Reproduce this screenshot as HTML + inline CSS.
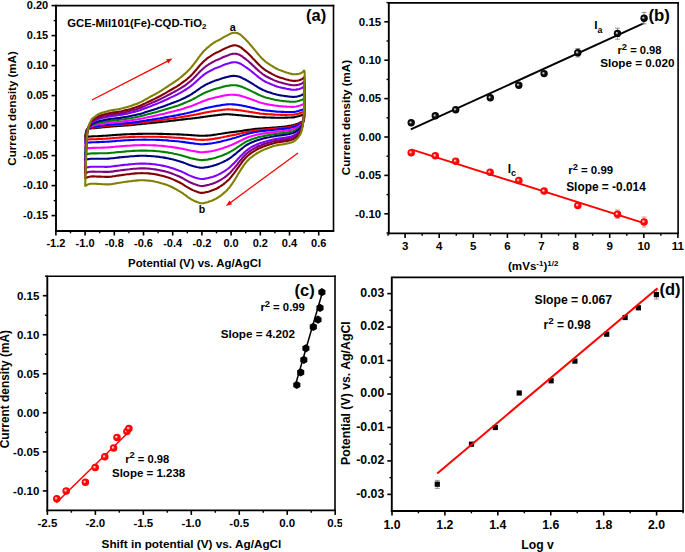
<!DOCTYPE html>
<html><head><meta charset="utf-8"><title>Electrochemistry panels</title>
<style>html,body{margin:0;padding:0;background:#fff;width:685px;height:552px;overflow:hidden}
svg text{font-family:'Liberation Sans',sans-serif;font-weight:bold;fill:#000}</style></head>
<body>
<svg width="685" height="552" viewBox="0 0 685 552" style="display:block;font-family:'Liberation Sans',sans-serif;font-weight:bold"><defs><radialGradient id="gk" cx="0.5" cy="0.5" r="0.5" fx="0.36" fy="0.42">
<stop offset="0" stop-color="#e8e8e8"/><stop offset="0.18" stop-color="#aaa"/><stop offset="0.42" stop-color="#111"/><stop offset="1" stop-color="#000"/></radialGradient><radialGradient id="gr" cx="0.5" cy="0.5" r="0.5" fx="0.36" fy="0.4">
<stop offset="0" stop-color="#fff"/><stop offset="0.18" stop-color="#ffb0b0"/><stop offset="0.45" stop-color="#ff0a0a"/><stop offset="1" stop-color="#f00"/></radialGradient></defs><rect width="685" height="552" fill="#fff"/><line x1="56" y1="5.6" x2="334.3" y2="5.6" stroke="#000" stroke-width="1.6" />
<line x1="333.5" y1="4.8" x2="333.5" y2="231" stroke="#000" stroke-width="1.6" />
<line x1="56" y1="4.8" x2="56" y2="231.95" stroke="#000" stroke-width="1.9" />
<line x1="55.05" y1="231" x2="334.3" y2="231" stroke="#000" stroke-width="1.9" />
<path d="M85.2,136.7 85.3,136.5 85.3,136.1 85.4,135.4 85.5,134.7 85.6,134.0 85.7,133.4 85.8,132.9 85.9,132.4 85.9,132.0 86.0,131.5 86.2,131.1 86.3,130.7 86.4,130.5 86.4,130.2 86.5,130.0 86.6,129.8 86.7,129.7 86.9,129.5 87.0,129.4 87.1,129.3 87.3,129.2 87.4,129.1 87.6,129.0 87.7,128.9 87.9,128.8 88.1,128.8 88.3,128.7 88.5,128.7 88.7,128.6 88.9,128.6 89.1,128.6 89.4,128.5 89.6,128.5 89.9,128.5 90.1,128.5 90.4,128.5 90.6,128.5 90.8,128.4 91.0,128.4 91.3,128.4 91.5,128.4 91.8,128.3 92.3,128.3 92.9,128.3 93.4,128.2 94.1,128.1 94.7,128.1 95.3,128.0 96.0,127.9 96.7,127.9 97.4,127.8 98.1,127.7 98.9,127.7 99.7,127.6 101.2,127.4 102.8,127.3 104.6,127.1 106.4,126.9 108.2,126.7 109.9,126.6 111.3,126.5 112.6,126.4 113.9,126.3 115.2,126.2 116.6,126.1 117.9,126.0 119.7,125.9 121.5,125.8 123.3,125.6 125.2,125.5 127.1,125.4 128.9,125.2 130.8,125.1 132.6,124.9 134.5,124.7 136.3,124.5 138.2,124.3 140.0,124.2 141.7,124.0 143.4,123.8 145.1,123.6 146.7,123.5 148.4,123.3 150.1,123.1 151.7,123.0 153.4,122.8 155.0,122.6 156.7,122.4 158.3,122.3 160.0,122.1 161.7,121.9 163.3,121.7 165.0,121.5 166.6,121.4 168.3,121.2 169.9,121.0 171.6,120.8 173.2,120.6 174.9,120.4 176.5,120.2 178.2,120.0 179.9,119.8 181.5,119.6 183.3,119.4 185.0,119.2 186.7,119.0 188.3,118.8 189.8,118.7 190.8,118.6 191.7,118.5 192.6,118.4 193.4,118.3 194.2,118.2 195.0,118.1 195.7,118.0 196.4,117.9 197.1,117.8 197.8,117.8 198.5,117.7 199.1,117.6 199.8,117.5 200.4,117.4 201.1,117.3 201.8,117.2 202.4,117.1 203.1,117.0 203.7,116.9 204.4,116.8 205.1,116.7 205.8,116.6 206.5,116.5 207.2,116.4 207.8,116.3 208.5,116.2 209.2,116.1 209.9,116.0 210.6,115.9 211.2,115.9 211.9,115.8 212.6,115.7 213.3,115.6 214.0,115.5 214.6,115.4 215.3,115.4 216.0,115.3 216.7,115.2 217.5,115.1 218.2,115.0 218.9,114.9 219.6,114.9 220.2,114.8 220.9,114.7 221.5,114.6 222.2,114.5 222.8,114.5 223.5,114.4 224.2,114.4 224.9,114.3 225.5,114.3 226.2,114.3 226.9,114.3 227.6,114.3 228.3,114.3 229.0,114.3 229.6,114.4 230.3,114.4 231.0,114.5 231.7,114.5 232.4,114.6 233.0,114.6 233.7,114.7 234.4,114.8 235.1,114.8 235.8,114.9 236.5,115.0 237.2,115.0 237.9,115.1 238.6,115.1 239.3,115.2 240.0,115.3 240.6,115.3 241.2,115.4 241.8,115.5 242.3,115.5 242.9,115.6 243.5,115.6 244.1,115.7 244.8,115.8 245.4,115.8 246.1,115.9 246.7,116.0 247.5,116.0 248.4,116.1 249.3,116.2 250.4,116.3 251.4,116.4 252.4,116.5 253.4,116.6 254.4,116.7 255.3,116.8 256.3,116.9 257.3,117.0 258.2,117.1 259.2,117.2 260.2,117.3 261.1,117.3 262.1,117.3 263.0,117.4 264.0,117.4 265.0,117.4 266.0,117.5 266.9,117.5 267.9,117.5 268.9,117.5 269.9,117.5 270.9,117.6 271.9,117.6 272.8,117.6 273.8,117.6 274.8,117.7 275.7,117.7 276.7,117.7 277.7,117.7 278.7,117.7 279.6,117.7 280.6,117.7 281.6,117.7 282.6,117.7 283.6,117.7 284.5,117.7 285.5,117.6 286.5,117.6 287.4,117.6 288.4,117.5 289.4,117.5 290.3,117.5 291.3,117.5 292.3,117.4 293.2,117.4 294.2,117.2 295.2,117.0 296.2,116.8 297.2,116.5 298.2,116.2 299.1,116.0 300.0,115.7 300.6,115.5 301.1,115.4 301.7,115.2 302.1,115.1 302.6,114.9 303.0,114.8 303.3,114.7 303.5,114.5 303.7,114.4 303.9,114.2 304.1,114.2 304.2,114.2 304.3,114.4 304.3,114.7 304.3,115.2 304.3,115.7 304.2,116.2 304.2,116.6 304.2,117.0 304.2,117.4 304.2,117.8 304.2,118.2 304.1,118.6 304.1,119.0 304.0,119.3 304.0,119.7 303.9,120.0 303.8,120.3 303.7,120.6 303.6,120.8 303.4,121.0 303.2,121.2 303.0,121.3 302.8,121.4 302.5,121.6 302.3,121.7 302.0,121.8 301.7,121.9 301.4,122.1 301.1,122.2 300.7,122.3 300.4,122.4 299.9,122.6 299.4,122.9 298.9,123.2 298.3,123.4 297.7,123.7 297.2,123.9 296.6,124.1 296.0,124.3 295.4,124.5 294.7,124.7 294.1,124.8 293.4,125.0 292.4,125.2 291.4,125.5 290.3,125.7 289.2,125.9 288.1,126.1 287.0,126.3 285.9,126.5 284.8,126.6 283.8,126.7 282.7,126.8 281.7,126.9 280.7,127.0 279.9,127.1 279.1,127.1 278.4,127.2 277.7,127.3 276.9,127.3 276.1,127.4 274.6,127.5 273.0,127.6 271.2,127.7 269.4,127.9 267.6,128.0 265.8,128.1 264.2,128.2 262.5,128.4 260.8,128.5 259.1,128.6 257.4,128.7 255.8,128.9 254.2,129.1 252.7,129.3 251.1,129.5 249.6,129.7 248.1,129.9 246.7,130.1 245.6,130.3 244.5,130.4 243.5,130.6 242.5,130.8 241.5,131.0 240.4,131.1 239.4,131.3 238.4,131.4 237.3,131.5 236.3,131.6 235.2,131.8 234.2,131.9 233.1,132.0 232.1,132.1 231.0,132.3 230.0,132.4 228.9,132.5 227.7,132.7 226.2,132.9 224.5,133.2 222.8,133.5 221.0,133.8 219.3,134.0 217.7,134.3 216.3,134.5 215.0,134.7 213.6,134.9 212.3,135.1 211.1,135.2 209.9,135.4 209.0,135.5 208.2,135.5 207.3,135.6 206.5,135.6 205.7,135.6 205.0,135.7 204.3,135.7 203.8,135.7 203.2,135.8 202.6,135.8 202.0,135.8 201.3,135.8 199.9,135.7 198.3,135.6 196.5,135.5 194.7,135.4 192.9,135.2 191.1,135.1 189.4,135.0 187.7,134.9 186.0,134.8 184.3,134.7 182.6,134.6 180.9,134.5 179.2,134.4 177.5,134.4 175.8,134.3 174.1,134.3 172.4,134.2 170.7,134.2 169.0,134.1 167.2,134.1 165.5,134.0 163.8,134.0 162.1,133.9 160.4,133.9 158.7,133.9 157.0,133.8 155.3,133.8 153.6,133.8 151.9,133.8 150.2,133.8 148.5,133.8 146.8,133.8 145.2,133.8 143.5,133.8 141.8,133.9 140.0,133.9 138.0,133.9 135.8,134.0 133.7,134.1 131.5,134.1 129.4,134.2 127.4,134.3 125.8,134.4 124.2,134.4 122.6,134.5 121.1,134.6 119.5,134.7 117.9,134.8 116.4,134.9 114.8,135.0 113.2,135.1 111.6,135.3 110.0,135.4 108.5,135.5 106.9,135.6 105.3,135.7 103.7,135.8 102.1,135.9 100.6,136.0 99.0,136.1 97.3,136.2 95.7,136.3 94.0,136.3 92.4,136.4 90.8,136.5 89.5,136.5 88.6,136.6 87.6,136.6 86.7,136.6 85.9,136.7 85.4,136.7 85.2,136.7 85.2,136.7 85.2,136.7 85.2,136.7 85.2,136.7 85.2,136.7 85.2,136.7Z" fill="none" stroke="#000000" stroke-width="2.1" stroke-linejoin="round"/>
<path d="M85.2,139.7 85.3,139.5 85.3,138.9 85.4,138.2 85.5,137.3 85.6,136.4 85.7,135.7 85.8,135.0 85.9,134.4 86.0,133.8 86.1,133.2 86.2,132.6 86.3,132.0 86.4,131.7 86.4,131.3 86.5,131.0 86.6,130.6 86.7,130.3 86.9,130.1 87.0,129.9 87.1,129.7 87.2,129.5 87.4,129.3 87.6,129.1 87.7,129.0 87.9,128.9 88.1,128.8 88.3,128.7 88.5,128.6 88.7,128.5 88.9,128.4 89.1,128.3 89.4,128.3 89.6,128.2 89.9,128.2 90.1,128.1 90.4,128.1 90.6,128.0 90.8,128.0 91.0,127.9 91.3,127.9 91.5,127.8 91.8,127.8 92.3,127.7 92.9,127.6 93.4,127.6 94.1,127.5 94.7,127.4 95.3,127.3 96.0,127.2 96.7,127.1 97.4,127.0 98.1,126.9 98.9,126.8 99.7,126.7 101.2,126.6 102.8,126.4 104.6,126.2 106.4,126.0 108.2,125.8 109.9,125.6 111.3,125.5 112.6,125.4 113.9,125.3 115.2,125.2 116.6,125.1 117.9,125.0 119.7,124.8 121.5,124.7 123.3,124.6 125.2,124.4 127.1,124.2 128.9,124.1 130.8,123.9 132.6,123.7 134.5,123.5 136.3,123.3 138.2,123.0 140.0,122.8 141.7,122.6 143.4,122.4 145.1,122.2 146.7,122.0 148.4,121.7 150.1,121.5 151.7,121.3 153.4,121.1 155.0,120.9 156.7,120.7 158.3,120.4 160.0,120.2 161.7,120.0 163.3,119.8 165.0,119.5 166.6,119.3 168.3,119.0 169.9,118.8 171.6,118.5 173.2,118.3 174.9,118.0 176.5,117.8 178.2,117.5 179.9,117.3 181.5,117.0 183.3,116.7 185.0,116.4 186.7,116.2 188.3,115.9 189.8,115.6 190.8,115.5 191.7,115.3 192.6,115.2 193.4,115.0 194.2,114.8 195.0,114.7 195.8,114.6 196.4,114.4 197.1,114.3 197.8,114.2 198.5,114.0 199.1,113.9 199.8,113.8 200.4,113.6 201.1,113.5 201.8,113.3 202.4,113.2 203.1,113.0 203.7,112.9 204.4,112.8 205.1,112.6 205.8,112.5 206.5,112.3 207.2,112.2 207.8,112.1 208.5,112.0 209.2,111.8 209.9,111.7 210.6,111.6 211.2,111.5 211.9,111.4 212.6,111.3 213.3,111.2 214.0,111.1 214.6,111.0 215.3,110.9 216.0,110.8 216.7,110.7 217.5,110.6 218.2,110.5 218.9,110.4 219.6,110.3 220.2,110.2 220.9,110.1 221.5,110.0 222.2,109.9 222.8,109.8 223.5,109.7 224.2,109.6 224.9,109.6 225.5,109.5 226.2,109.5 226.9,109.5 227.6,109.4 228.3,109.4 229.0,109.4 229.6,109.5 230.3,109.5 231.0,109.5 231.7,109.5 232.4,109.6 233.0,109.6 233.7,109.7 234.4,109.7 235.1,109.8 235.8,109.9 236.5,109.9 237.2,110.0 237.9,110.1 238.6,110.2 239.3,110.3 240.0,110.3 240.6,110.4 241.2,110.5 241.8,110.6 242.3,110.7 242.9,110.8 243.5,110.9 244.1,111.0 244.8,111.1 245.4,111.2 246.1,111.3 246.7,111.4 247.5,111.5 248.4,111.6 249.3,111.8 250.4,112.0 251.4,112.1 252.4,112.3 253.4,112.5 254.4,112.6 255.3,112.8 256.3,113.0 257.3,113.1 258.2,113.3 259.2,113.4 260.2,113.6 261.1,113.7 262.1,113.8 263.0,113.8 264.0,113.9 265.0,114.0 266.0,114.1 266.9,114.1 267.9,114.2 268.9,114.3 269.9,114.3 270.9,114.4 271.9,114.4 272.8,114.5 273.8,114.6 274.8,114.6 275.7,114.7 276.7,114.7 277.7,114.8 278.7,114.8 279.6,114.8 280.6,114.9 281.6,114.9 282.6,114.9 283.6,114.9 284.5,114.9 285.5,114.9 286.5,114.9 287.4,114.8 288.4,114.8 289.4,114.8 290.3,114.8 291.3,114.8 292.3,114.8 293.2,114.7 294.2,114.6 295.2,114.4 296.2,114.2 297.2,113.9 298.2,113.7 299.1,113.4 300.0,113.1 300.6,113.0 301.1,112.8 301.7,112.6 302.1,112.5 302.6,112.3 303.0,112.2 303.3,112.0 303.5,111.9 303.7,111.7 303.9,111.6 304.1,111.5 304.2,111.5 304.3,111.8 304.4,112.3 304.4,112.9 304.3,113.6 304.3,114.3 304.2,115.0 304.2,115.5 304.2,116.1 304.2,116.7 304.2,117.2 304.1,117.8 304.1,118.3 304.0,118.7 304.0,119.2 303.9,119.6 303.8,119.9 303.7,120.3 303.6,120.7 303.4,120.9 303.2,121.2 303.0,121.4 302.8,121.7 302.5,121.9 302.3,122.1 302.0,122.3 301.7,122.5 301.4,122.6 301.1,122.8 300.7,123.0 300.4,123.1 299.9,123.4 299.4,123.7 298.9,124.0 298.3,124.3 297.7,124.6 297.2,124.8 296.6,125.0 296.0,125.3 295.4,125.5 294.7,125.6 294.1,125.8 293.4,126.0 292.4,126.3 291.4,126.5 290.3,126.8 289.2,127.0 288.1,127.2 287.0,127.4 285.9,127.5 284.8,127.7 283.8,127.8 282.7,127.9 281.7,128.0 280.7,128.1 279.9,128.1 279.1,128.2 278.4,128.3 277.7,128.3 276.9,128.4 276.1,128.5 274.6,128.6 273.0,128.8 271.2,128.9 269.4,129.1 267.6,129.2 265.8,129.4 264.2,129.5 262.5,129.7 260.8,129.9 259.1,130.0 257.4,130.2 255.8,130.4 254.2,130.7 252.7,130.9 251.1,131.2 249.6,131.5 248.1,131.7 246.7,132.0 245.6,132.3 244.5,132.5 243.5,132.8 242.5,133.0 241.5,133.3 240.4,133.5 239.4,133.8 238.4,134.0 237.3,134.2 236.3,134.4 235.2,134.7 234.2,134.9 233.1,135.1 232.1,135.3 231.0,135.5 230.0,135.7 228.9,135.9 227.7,136.1 226.2,136.5 224.5,136.8 222.8,137.2 221.0,137.5 219.3,137.9 217.7,138.2 216.3,138.4 215.0,138.6 213.6,138.9 212.3,139.1 211.1,139.3 209.9,139.4 209.0,139.5 208.2,139.6 207.3,139.6 206.5,139.7 205.7,139.7 205.0,139.8 204.3,139.8 203.8,139.9 203.2,139.9 202.6,139.9 202.0,139.9 201.3,139.9 199.9,139.8 198.3,139.7 196.5,139.6 194.7,139.4 192.9,139.2 191.1,139.0 189.4,138.8 187.7,138.7 186.0,138.5 184.3,138.3 182.6,138.1 180.9,138.0 179.2,137.9 177.5,137.8 175.8,137.7 174.1,137.6 172.4,137.5 170.7,137.4 169.0,137.3 167.2,137.2 165.5,137.1 163.8,137.0 162.1,136.9 160.4,136.9 158.7,136.8 157.0,136.8 155.3,136.7 153.6,136.7 151.9,136.7 150.2,136.7 148.5,136.7 146.8,136.7 145.2,136.7 143.5,136.7 141.8,136.7 140.0,136.7 138.0,136.8 135.8,136.8 133.7,136.9 131.5,137.0 129.4,137.1 127.4,137.2 125.8,137.3 124.2,137.3 122.6,137.4 121.1,137.5 119.5,137.6 117.9,137.7 116.4,137.8 114.8,138.0 113.2,138.1 111.6,138.2 110.0,138.4 108.5,138.5 106.9,138.6 105.3,138.7 103.7,138.8 102.1,138.9 100.6,138.9 99.0,139.0 97.3,139.1 95.7,139.2 94.0,139.2 92.4,139.3 90.8,139.3 89.5,139.4 88.6,139.5 87.6,139.5 86.7,139.6 85.9,139.6 85.4,139.7 85.2,139.7 85.2,139.7 85.2,139.7 85.2,139.7 85.2,139.7 85.2,139.7 85.2,139.7Z" fill="none" stroke="#ff0000" stroke-width="2.1" stroke-linejoin="round"/>
<path d="M85.2,142.8 85.3,142.6 85.3,142.0 85.4,141.0 85.5,140.0 85.6,139.0 85.7,138.0 85.8,137.3 85.9,136.5 86.0,135.7 86.1,134.9 86.2,134.1 86.3,133.4 86.4,132.9 86.4,132.4 86.5,131.9 86.6,131.5 86.7,131.1 86.9,130.7 87.0,130.4 87.1,130.1 87.2,129.8 87.4,129.5 87.6,129.3 87.7,129.1 87.9,128.9 88.1,128.7 88.3,128.6 88.5,128.5 88.7,128.3 88.9,128.2 89.1,128.1 89.4,128.0 89.6,127.9 89.9,127.8 90.1,127.7 90.4,127.7 90.6,127.6 90.8,127.5 91.0,127.4 91.3,127.4 91.5,127.3 91.8,127.2 92.3,127.1 92.9,127.0 93.4,126.9 94.1,126.8 94.7,126.7 95.3,126.5 96.0,126.4 96.7,126.3 97.4,126.2 98.1,126.1 98.9,126.0 99.7,125.8 101.2,125.6 102.8,125.4 104.6,125.2 106.4,125.0 108.2,124.8 109.9,124.6 111.3,124.4 112.6,124.3 113.9,124.2 115.2,124.1 116.6,124.0 117.9,123.9 119.7,123.8 121.5,123.6 123.3,123.4 125.2,123.3 127.1,123.1 128.9,122.9 130.8,122.7 132.6,122.4 134.5,122.2 136.3,121.9 138.2,121.7 140.0,121.4 141.7,121.2 143.4,120.9 145.1,120.7 146.7,120.4 148.4,120.1 150.1,119.8 151.7,119.6 153.4,119.3 155.0,119.1 156.7,118.8 158.3,118.5 160.0,118.3 161.7,118.0 163.3,117.7 165.0,117.4 166.6,117.1 168.3,116.8 169.9,116.5 171.6,116.2 173.2,115.9 174.9,115.6 176.5,115.3 178.2,114.9 179.9,114.6 181.5,114.3 183.3,113.9 185.0,113.5 186.7,113.2 188.3,112.8 189.8,112.5 190.8,112.2 191.7,112.0 192.6,111.8 193.4,111.6 194.2,111.4 195.0,111.1 195.8,110.9 196.4,110.8 197.1,110.6 197.8,110.4 198.5,110.2 199.1,110.0 199.8,109.8 200.4,109.6 201.1,109.4 201.8,109.3 202.4,109.1 203.1,108.9 203.7,108.7 204.4,108.5 205.1,108.3 205.8,108.1 206.5,108.0 207.2,107.8 207.8,107.7 208.5,107.5 209.2,107.4 209.9,107.2 210.6,107.1 211.2,107.0 211.9,106.8 212.6,106.7 213.3,106.6 214.0,106.4 214.6,106.3 215.3,106.2 216.0,106.0 216.7,105.9 217.5,105.8 218.2,105.7 218.9,105.6 219.6,105.5 220.2,105.4 220.9,105.2 221.5,105.1 222.2,105.0 222.8,104.9 223.5,104.8 224.2,104.7 224.9,104.6 225.5,104.5 226.2,104.5 226.9,104.4 227.6,104.4 228.3,104.3 229.0,104.3 229.6,104.3 230.3,104.3 231.0,104.3 231.7,104.3 232.4,104.4 233.0,104.4 233.7,104.4 234.4,104.5 235.1,104.6 235.8,104.6 236.5,104.7 237.2,104.8 237.9,104.9 238.6,105.0 239.3,105.1 240.0,105.2 240.6,105.3 241.2,105.4 241.8,105.5 242.3,105.6 242.9,105.7 243.5,105.9 244.1,106.0 244.8,106.1 245.4,106.3 246.1,106.4 246.7,106.5 247.5,106.7 248.4,106.9 249.3,107.1 250.4,107.4 251.4,107.6 252.4,107.9 253.4,108.1 254.4,108.3 255.3,108.6 256.3,108.8 257.3,109.1 258.2,109.3 259.2,109.5 260.2,109.7 261.1,109.8 262.1,110.0 263.0,110.1 264.0,110.3 265.0,110.4 266.0,110.5 266.9,110.6 267.9,110.7 268.9,110.8 269.9,110.9 270.9,111.0 271.9,111.1 272.8,111.2 273.8,111.3 274.8,111.4 275.7,111.5 276.7,111.6 277.7,111.7 278.7,111.7 279.6,111.8 280.6,111.8 281.6,111.9 282.6,111.9 283.6,111.9 284.5,112.0 285.5,112.0 286.5,112.0 287.4,112.0 288.4,112.0 289.4,112.0 290.3,112.0 291.3,112.0 292.3,112.0 293.2,112.0 294.2,111.9 295.2,111.7 296.2,111.5 297.2,111.2 298.2,111.0 299.1,110.7 300.0,110.4 300.6,110.3 301.1,110.1 301.7,109.9 302.1,109.8 302.6,109.6 303.0,109.4 303.3,109.3 303.5,109.1 303.7,108.9 303.9,108.8 304.1,108.7 304.2,108.7 304.4,109.1 304.4,109.7 304.4,110.5 304.3,111.5 304.3,112.4 304.2,113.2 304.2,114.0 304.2,114.7 304.2,115.5 304.2,116.2 304.1,116.9 304.1,117.6 304.0,118.1 304.0,118.6 303.9,119.1 303.8,119.6 303.7,120.1 303.6,120.5 303.4,120.9 303.2,121.2 303.0,121.6 302.8,121.9 302.5,122.2 302.3,122.5 302.0,122.7 301.7,123.0 301.4,123.2 301.1,123.4 300.7,123.6 300.4,123.9 299.9,124.2 299.4,124.5 298.9,124.8 298.3,125.2 297.7,125.5 297.2,125.7 296.6,126.0 296.0,126.2 295.4,126.5 294.7,126.7 294.1,126.9 293.4,127.1 292.4,127.3 291.4,127.6 290.3,127.8 289.2,128.1 288.1,128.3 287.0,128.5 285.9,128.6 284.8,128.8 283.8,128.9 282.7,129.0 281.7,129.1 280.7,129.2 279.9,129.3 279.1,129.3 278.4,129.4 277.7,129.5 276.9,129.6 276.1,129.7 274.6,129.8 273.0,130.0 271.2,130.1 269.4,130.3 267.6,130.5 265.8,130.7 264.2,130.9 262.5,131.1 260.8,131.3 259.1,131.5 257.4,131.8 255.8,132.0 254.2,132.3 252.7,132.6 251.1,133.0 249.6,133.3 248.1,133.7 246.7,134.0 245.6,134.4 244.5,134.7 243.5,135.0 242.5,135.4 241.5,135.7 240.4,136.0 239.4,136.4 238.4,136.7 237.3,137.0 236.3,137.4 235.2,137.7 234.2,138.0 233.1,138.3 232.1,138.6 231.1,138.9 230.0,139.2 228.9,139.5 227.7,139.8 226.2,140.2 224.5,140.6 222.8,141.0 221.0,141.5 219.3,141.9 217.7,142.2 216.3,142.5 215.0,142.8 213.6,143.0 212.3,143.3 211.1,143.5 209.9,143.6 209.0,143.7 208.2,143.8 207.3,143.9 206.5,144.0 205.7,144.0 205.0,144.1 204.3,144.1 203.8,144.2 203.2,144.2 202.6,144.2 202.0,144.2 201.3,144.2 199.9,144.2 198.3,144.0 196.5,143.8 194.7,143.6 192.9,143.3 191.1,143.1 189.4,142.9 187.7,142.6 186.0,142.4 184.3,142.1 182.6,141.9 180.9,141.7 179.2,141.5 177.5,141.3 175.8,141.2 174.1,141.0 172.4,140.9 170.7,140.7 169.0,140.6 167.3,140.4 165.5,140.3 163.8,140.2 162.1,140.1 160.4,140.0 158.7,139.9 157.0,139.9 155.3,139.8 153.6,139.8 151.9,139.7 150.2,139.7 148.5,139.7 146.8,139.7 145.2,139.6 143.5,139.6 141.8,139.7 140.0,139.7 138.0,139.7 135.8,139.8 133.7,139.9 131.5,140.0 129.4,140.1 127.4,140.2 125.8,140.3 124.2,140.4 122.6,140.5 121.1,140.6 119.5,140.7 117.9,140.8 116.4,140.9 114.8,141.1 113.2,141.2 111.6,141.4 110.0,141.5 108.5,141.6 106.9,141.7 105.3,141.8 103.7,141.9 102.1,141.9 100.6,142.0 99.0,142.1 97.3,142.1 95.7,142.2 94.0,142.3 92.4,142.3 90.8,142.4 89.5,142.5 88.6,142.5 87.6,142.6 86.7,142.7 85.9,142.8 85.4,142.8 85.2,142.8 85.2,142.9 85.2,142.9 85.2,142.9 85.2,142.9 85.2,142.9 85.2,142.8Z" fill="none" stroke="#0000ff" stroke-width="2.1" stroke-linejoin="round"/>
<path d="M85.2,148.7 85.3,148.3 85.3,147.5 85.4,146.3 85.5,145.0 85.6,143.6 85.7,142.4 85.8,141.4 85.9,140.3 86.0,139.2 86.1,138.1 86.2,137.0 86.3,136.0 86.4,135.2 86.4,134.5 86.5,133.8 86.6,133.1 86.7,132.4 86.9,131.8 87.0,131.3 87.1,130.8 87.2,130.4 87.4,130.0 87.5,129.6 87.7,129.3 87.9,129.0 88.1,128.7 88.3,128.5 88.5,128.3 88.7,128.1 88.9,127.9 89.1,127.7 89.4,127.5 89.6,127.3 89.9,127.2 90.1,127.0 90.4,126.9 90.6,126.8 90.8,126.6 91.0,126.5 91.3,126.4 91.5,126.3 91.8,126.2 92.3,126.0 92.9,125.8 93.4,125.6 94.1,125.5 94.7,125.3 95.3,125.2 96.0,125.0 96.7,124.8 97.4,124.7 98.1,124.5 98.9,124.3 99.7,124.2 101.2,123.9 102.8,123.7 104.6,123.4 106.4,123.1 108.2,122.9 109.9,122.7 111.3,122.5 112.6,122.4 113.9,122.3 115.2,122.2 116.6,122.1 117.9,121.9 119.7,121.8 121.5,121.6 123.3,121.4 125.2,121.1 127.1,120.9 128.9,120.7 130.8,120.4 132.6,120.1 134.5,119.8 136.3,119.5 138.2,119.2 140.0,118.9 141.7,118.5 143.4,118.2 145.1,117.8 146.7,117.5 148.4,117.1 150.1,116.8 151.7,116.4 153.4,116.1 155.0,115.7 156.7,115.4 158.3,115.0 160.0,114.6 161.7,114.2 163.3,113.9 165.0,113.5 166.6,113.0 168.3,112.6 169.9,112.2 171.6,111.8 173.2,111.4 174.9,111.0 176.6,110.6 178.2,110.1 179.9,109.7 181.5,109.2 183.3,108.7 185.0,108.1 186.7,107.6 188.3,107.1 189.8,106.6 190.8,106.3 191.7,105.9 192.6,105.6 193.4,105.3 194.2,104.9 195.0,104.6 195.8,104.3 196.4,104.0 197.1,103.7 197.8,103.4 198.5,103.1 199.1,102.9 199.8,102.6 200.4,102.3 201.1,102.0 201.7,101.7 202.4,101.5 203.1,101.2 203.7,101.0 204.4,100.7 205.1,100.4 205.8,100.2 206.5,100.0 207.2,99.7 207.8,99.5 208.5,99.3 209.2,99.1 209.9,98.9 210.6,98.8 211.2,98.6 211.9,98.4 212.6,98.2 213.3,98.0 214.0,97.8 214.6,97.7 215.3,97.5 216.0,97.3 216.7,97.2 217.5,97.0 218.2,96.9 218.9,96.7 219.6,96.6 220.2,96.4 220.9,96.3 221.5,96.1 222.2,96.0 222.8,95.8 223.5,95.7 224.2,95.5 224.9,95.4 225.5,95.3 226.2,95.2 226.9,95.1 227.6,95.0 228.3,95.0 229.0,94.9 229.6,94.8 230.3,94.8 231.0,94.8 231.7,94.8 232.4,94.7 233.0,94.8 233.7,94.8 234.4,94.8 235.1,94.9 235.8,94.9 236.5,95.0 237.2,95.1 237.9,95.2 238.6,95.3 239.3,95.5 240.0,95.6 240.6,95.8 241.2,95.9 241.8,96.1 242.3,96.3 242.9,96.5 243.5,96.7 244.1,96.8 244.8,97.0 245.4,97.2 246.1,97.4 246.7,97.7 247.5,97.9 248.4,98.2 249.3,98.6 250.4,98.9 251.4,99.3 252.4,99.7 253.4,100.0 254.4,100.4 255.3,100.8 256.3,101.1 257.3,101.5 258.2,101.9 259.2,102.2 260.2,102.5 261.1,102.8 262.1,103.0 263.0,103.3 264.0,103.5 265.0,103.8 266.0,104.0 266.9,104.2 267.9,104.4 268.9,104.5 269.9,104.7 270.9,104.9 271.9,105.0 272.8,105.2 273.8,105.4 274.8,105.5 275.7,105.7 276.7,105.8 277.7,105.9 278.7,106.0 279.6,106.2 280.6,106.2 281.6,106.3 282.6,106.4 283.6,106.5 284.5,106.5 285.5,106.6 286.5,106.6 287.4,106.7 288.4,106.7 289.4,106.8 290.3,106.8 291.3,106.9 292.3,106.9 293.2,106.9 294.2,106.8 295.2,106.7 296.2,106.5 297.2,106.2 298.2,106.0 299.1,105.7 300.0,105.5 300.6,105.3 301.1,105.1 301.7,104.9 302.1,104.7 302.6,104.5 303.0,104.3 303.3,104.2 303.5,104.0 303.7,103.8 303.9,103.7 304.1,103.6 304.2,103.6 304.4,104.0 304.5,104.9 304.4,106.1 304.4,107.5 304.3,108.8 304.2,110.0 304.2,111.1 304.2,112.2 304.2,113.2 304.2,114.3 304.1,115.3 304.1,116.2 304.0,117.0 304.0,117.7 303.9,118.3 303.8,119.0 303.7,119.6 303.6,120.2 303.4,120.8 303.2,121.3 303.0,121.8 302.8,122.3 302.5,122.7 302.3,123.2 302.0,123.6 301.7,123.9 301.4,124.3 301.1,124.6 300.7,124.9 300.4,125.3 299.9,125.7 299.4,126.0 298.9,126.4 298.3,126.8 297.8,127.1 297.2,127.5 296.6,127.8 296.0,128.1 295.4,128.3 294.8,128.6 294.1,128.8 293.4,129.1 292.4,129.3 291.4,129.6 290.3,129.9 289.2,130.1 288.1,130.3 287.0,130.5 285.9,130.7 284.8,130.8 283.8,131.0 282.7,131.1 281.7,131.2 280.7,131.3 279.9,131.4 279.1,131.4 278.4,131.5 277.7,131.6 276.9,131.7 276.1,131.8 274.6,132.0 273.0,132.2 271.2,132.4 269.4,132.6 267.6,132.9 265.8,133.2 264.2,133.4 262.5,133.7 260.8,134.0 259.1,134.3 257.4,134.6 255.8,135.0 254.2,135.4 252.6,135.8 251.1,136.3 249.6,136.7 248.1,137.2 246.7,137.8 245.6,138.2 244.5,138.7 243.5,139.2 242.5,139.7 241.5,140.2 240.4,140.7 239.4,141.2 238.4,141.7 237.3,142.2 236.3,142.7 235.2,143.2 234.2,143.7 233.1,144.2 232.1,144.7 231.1,145.1 230.0,145.6 228.9,146.0 227.7,146.5 226.2,147.0 224.5,147.6 222.8,148.2 221.0,148.7 219.3,149.3 217.7,149.7 216.3,150.1 215.0,150.4 213.6,150.7 212.4,151.0 211.1,151.2 209.9,151.4 209.0,151.5 208.2,151.7 207.3,151.8 206.5,151.9 205.7,151.9 205.0,152.0 204.3,152.1 203.8,152.1 203.2,152.2 202.6,152.2 202.0,152.2 201.3,152.2 199.9,152.1 198.3,151.9 196.5,151.6 194.7,151.3 192.9,151.0 191.1,150.7 189.4,150.3 187.7,150.0 186.0,149.6 184.3,149.2 182.6,148.8 180.9,148.5 179.2,148.2 177.5,147.9 175.8,147.6 174.1,147.4 172.4,147.1 170.7,146.9 169.0,146.7 167.3,146.5 165.5,146.3 163.8,146.1 162.1,145.9 160.4,145.8 158.7,145.7 157.0,145.5 155.3,145.4 153.6,145.4 151.9,145.3 150.2,145.2 148.5,145.2 146.8,145.2 145.2,145.1 143.5,145.1 141.8,145.1 140.0,145.2 138.0,145.2 135.8,145.3 133.7,145.4 131.5,145.5 129.4,145.7 127.4,145.8 125.8,145.9 124.2,146.0 122.6,146.1 121.1,146.2 119.5,146.4 117.9,146.5 116.4,146.6 114.8,146.8 113.2,147.0 111.6,147.1 110.0,147.3 108.5,147.4 106.9,147.5 105.3,147.5 103.7,147.6 102.1,147.6 100.6,147.7 99.0,147.7 97.3,147.8 95.7,147.8 94.0,147.9 92.4,147.9 90.8,148.0 89.5,148.1 88.6,148.1 87.6,148.3 86.7,148.4 85.9,148.5 85.4,148.6 85.2,148.7 85.2,148.7 85.2,148.7 85.2,148.7 85.2,148.7 85.2,148.7 85.2,148.7Z" fill="none" stroke="#ff00ff" stroke-width="2.1" stroke-linejoin="round"/>
<path d="M85.2,154.4 85.3,154.0 85.3,153.0 85.4,151.6 85.5,149.9 85.6,148.3 85.7,146.8 85.8,145.4 85.9,144.0 86.0,142.6 86.1,141.2 86.2,139.9 86.3,138.6 86.4,137.6 86.4,136.5 86.5,135.6 86.6,134.6 86.7,133.7 86.9,132.8 87.0,132.2 87.1,131.6 87.2,131.0 87.4,130.5 87.5,129.9 87.7,129.4 87.9,129.1 88.1,128.7 88.3,128.4 88.5,128.1 88.7,127.8 88.9,127.5 89.1,127.3 89.4,127.0 89.6,126.8 89.9,126.6 90.1,126.4 90.4,126.1 90.6,126.0 90.8,125.8 91.0,125.6 91.3,125.4 91.5,125.3 91.8,125.1 92.3,124.9 92.8,124.6 93.4,124.4 94.1,124.2 94.7,124.0 95.3,123.8 96.0,123.6 96.7,123.4 97.4,123.2 98.1,122.9 98.9,122.7 99.7,122.5 101.2,122.2 102.8,121.9 104.6,121.6 106.4,121.3 108.2,121.1 109.9,120.8 111.3,120.7 112.6,120.5 113.9,120.4 115.2,120.3 116.6,120.1 117.9,120.0 119.7,119.8 121.5,119.5 123.3,119.3 125.2,119.0 127.1,118.8 128.9,118.5 130.8,118.2 132.6,117.8 134.5,117.5 136.3,117.1 138.2,116.7 140.0,116.3 141.7,115.9 143.4,115.5 145.1,115.0 146.7,114.6 148.4,114.1 150.1,113.7 151.7,113.3 153.4,112.8 155.0,112.4 156.7,112.0 158.3,111.5 160.0,111.0 161.7,110.6 163.3,110.1 165.0,109.6 166.6,109.0 168.3,108.5 169.9,108.0 171.6,107.5 173.2,107.0 174.9,106.4 176.6,105.9 178.2,105.4 179.9,104.8 181.6,104.2 183.3,103.5 185.0,102.8 186.7,102.1 188.3,101.4 189.8,100.8 190.8,100.3 191.7,99.9 192.6,99.4 193.4,99.0 194.2,98.5 195.0,98.1 195.8,97.7 196.4,97.3 197.1,96.9 197.8,96.5 198.5,96.1 199.1,95.7 199.8,95.4 200.4,95.0 201.1,94.7 201.7,94.3 202.4,94.0 203.1,93.6 203.7,93.3 204.4,93.0 205.1,92.6 205.8,92.3 206.5,92.0 207.2,91.7 207.8,91.5 208.5,91.2 209.2,91.0 209.9,90.7 210.6,90.5 211.2,90.3 211.9,90.0 212.6,89.8 213.3,89.6 214.0,89.3 214.6,89.1 215.3,88.9 216.0,88.7 216.7,88.5 217.5,88.3 218.2,88.2 218.9,88.0 219.6,87.8 220.2,87.6 220.9,87.4 221.5,87.2 222.2,87.0 222.8,86.8 223.5,86.6 224.2,86.5 224.9,86.3 225.5,86.2 226.2,86.0 226.9,85.9 227.6,85.8 228.3,85.7 229.0,85.6 229.6,85.5 230.3,85.4 231.0,85.3 231.7,85.2 232.4,85.2 233.0,85.2 233.7,85.2 234.4,85.2 235.1,85.2 235.8,85.3 236.5,85.4 237.2,85.5 237.9,85.6 238.6,85.8 239.3,86.0 240.0,86.2 240.6,86.4 241.2,86.6 241.8,86.8 242.3,87.0 242.9,87.3 243.5,87.5 244.1,87.8 244.8,88.0 245.4,88.3 246.1,88.6 246.7,88.9 247.5,89.2 248.4,89.6 249.4,90.1 250.4,90.6 251.4,91.1 252.4,91.6 253.4,92.1 254.4,92.5 255.3,93.0 256.3,93.5 257.3,94.0 258.2,94.5 259.2,95.0 260.2,95.4 261.1,95.8 262.1,96.2 263.0,96.5 264.0,96.9 265.0,97.2 265.9,97.5 266.9,97.8 267.9,98.0 268.9,98.3 269.9,98.5 270.9,98.8 271.9,99.0 272.8,99.2 273.8,99.5 274.8,99.7 275.7,99.9 276.7,100.1 277.7,100.3 278.7,100.4 279.6,100.6 280.6,100.7 281.6,100.8 282.6,101.0 283.6,101.1 284.5,101.2 285.5,101.3 286.5,101.4 287.4,101.5 288.4,101.5 289.4,101.6 290.3,101.7 291.3,101.8 292.3,101.8 293.2,101.8 294.2,101.8 295.2,101.7 296.2,101.5 297.2,101.3 298.2,101.0 299.1,100.8 300.0,100.5 300.6,100.3 301.1,100.1 301.7,99.9 302.2,99.7 302.6,99.5 303.0,99.3 303.3,99.1 303.5,98.9 303.7,98.7 303.9,98.6 304.1,98.5 304.2,98.5 304.4,99.0 304.5,100.2 304.5,101.8 304.4,103.6 304.3,105.3 304.2,106.9 304.2,108.2 304.2,109.6 304.2,111.0 304.2,112.4 304.1,113.7 304.1,114.9 304.0,115.8 304.0,116.7 303.9,117.5 303.8,118.4 303.7,119.2 303.6,119.9 303.4,120.6 303.2,121.3 303.0,122.0 302.8,122.7 302.6,123.3 302.3,123.9 302.0,124.4 301.7,124.9 301.4,125.3 301.1,125.8 300.8,126.2 300.4,126.6 299.9,127.1 299.4,127.5 298.9,128.0 298.3,128.4 297.8,128.8 297.2,129.2 296.6,129.5 296.0,129.9 295.4,130.2 294.8,130.5 294.1,130.7 293.4,131.0 292.4,131.3 291.4,131.6 290.3,131.9 289.2,132.1 288.1,132.3 287.0,132.5 285.9,132.7 284.8,132.9 283.8,133.0 282.7,133.1 281.7,133.2 280.7,133.4 279.9,133.4 279.1,133.5 278.4,133.6 277.7,133.7 276.9,133.8 276.1,133.9 274.6,134.1 273.0,134.3 271.2,134.6 269.4,134.9 267.6,135.3 265.8,135.6 264.2,135.9 262.5,136.3 260.8,136.6 259.1,137.0 257.4,137.5 255.8,137.9 254.2,138.4 252.6,139.0 251.1,139.5 249.6,140.2 248.1,140.8 246.7,141.4 245.6,142.0 244.5,142.7 243.5,143.3 242.5,143.9 241.5,144.6 240.4,145.3 239.4,146.0 238.4,146.7 237.3,147.4 236.3,148.1 235.2,148.8 234.2,149.4 233.1,150.1 232.1,150.7 231.1,151.3 230.0,151.9 228.9,152.5 227.7,153.1 226.2,153.8 224.5,154.5 222.8,155.3 221.0,155.9 219.3,156.6 217.7,157.1 216.3,157.6 215.0,157.9 213.6,158.3 212.4,158.6 211.1,158.9 209.9,159.1 209.0,159.3 208.2,159.4 207.3,159.6 206.5,159.7 205.7,159.8 205.0,159.9 204.3,159.9 203.8,160.0 203.2,160.1 202.6,160.1 202.0,160.1 201.3,160.1 199.9,160.0 198.3,159.7 196.5,159.4 194.7,159.0 192.9,158.6 191.1,158.2 189.4,157.7 187.7,157.2 186.0,156.7 184.3,156.2 182.6,155.7 180.9,155.2 179.2,154.8 177.5,154.4 175.8,154.0 174.1,153.7 172.4,153.3 170.7,153.0 169.0,152.7 167.3,152.4 165.6,152.2 163.8,151.9 162.1,151.7 160.4,151.5 158.7,151.3 157.0,151.2 155.3,151.0 153.6,150.9 151.9,150.8 150.2,150.7 148.5,150.7 146.8,150.6 145.2,150.6 143.5,150.6 141.8,150.6 140.0,150.6 138.0,150.7 135.8,150.8 133.7,150.9 131.5,151.0 129.4,151.2 127.4,151.3 125.8,151.4 124.2,151.6 122.6,151.7 121.1,151.9 119.5,152.0 117.9,152.1 116.4,152.3 114.8,152.5 113.2,152.7 111.6,152.8 110.0,153.0 108.5,153.1 106.9,153.2 105.3,153.2 103.7,153.3 102.1,153.3 100.6,153.3 99.0,153.3 97.3,153.4 95.7,153.4 94.0,153.4 92.4,153.4 90.8,153.5 89.5,153.6 88.6,153.7 87.6,153.9 86.7,154.1 85.9,154.2 85.4,154.4 85.2,154.4 85.2,154.4 85.2,154.4 85.2,154.4 85.2,154.4 85.2,154.4 85.2,154.4Z" fill="none" stroke="#008000" stroke-width="2.1" stroke-linejoin="round"/>
<path d="M85.2,160.0 85.3,159.5 85.3,158.3 85.4,156.6 85.5,154.7 85.6,152.7 85.7,151.0 85.8,149.3 85.9,147.7 86.0,146.0 86.1,144.3 86.2,142.6 86.3,141.1 86.4,139.8 86.4,138.5 86.5,137.3 86.6,136.1 86.7,135.0 86.9,133.9 87.0,133.1 87.1,132.3 87.2,131.6 87.4,130.9 87.5,130.2 87.7,129.6 87.9,129.2 88.1,128.7 88.3,128.3 88.5,127.9 88.7,127.5 88.9,127.2 89.1,126.9 89.4,126.5 89.6,126.2 89.8,126.0 90.1,125.7 90.4,125.4 90.6,125.2 90.8,124.9 91.0,124.7 91.3,124.5 91.5,124.3 91.8,124.1 92.3,123.8 92.8,123.5 93.4,123.2 94.1,123.0 94.7,122.7 95.3,122.5 96.0,122.2 96.7,121.9 97.4,121.7 98.1,121.4 98.9,121.2 99.7,121.0 101.2,120.6 102.8,120.3 104.6,119.9 106.4,119.6 108.2,119.3 109.9,119.0 111.3,118.8 112.6,118.7 113.9,118.5 115.2,118.4 116.6,118.3 117.9,118.1 119.7,117.9 121.5,117.6 123.3,117.3 125.2,117.0 127.1,116.7 128.9,116.4 130.8,116.0 132.6,115.6 134.5,115.2 136.3,114.8 138.2,114.3 140.0,113.9 141.7,113.4 143.4,112.9 145.1,112.3 146.7,111.8 148.4,111.3 150.1,110.7 151.7,110.2 153.4,109.7 155.0,109.2 156.7,108.7 158.3,108.1 160.0,107.6 161.7,107.0 163.3,106.4 165.0,105.8 166.6,105.2 168.3,104.6 169.9,103.9 171.6,103.3 173.2,102.7 174.9,102.1 176.6,101.4 178.2,100.8 179.9,100.1 181.6,99.3 183.3,98.5 185.0,97.7 186.7,96.8 188.3,96.0 189.8,95.2 190.8,94.6 191.7,94.0 192.6,93.5 193.4,92.9 194.2,92.4 195.0,91.8 195.8,91.3 196.4,90.8 197.1,90.3 197.8,89.8 198.5,89.4 199.1,88.9 199.8,88.4 200.4,88.0 201.1,87.5 201.7,87.1 202.4,86.7 203.1,86.3 203.7,85.9 204.4,85.5 205.1,85.1 205.8,84.7 206.5,84.3 207.2,84.0 207.8,83.7 208.5,83.4 209.2,83.1 209.9,82.8 210.6,82.5 211.2,82.2 211.9,81.9 212.6,81.6 213.3,81.4 214.0,81.1 214.6,80.8 215.3,80.6 216.0,80.4 216.7,80.1 217.5,79.9 218.2,79.7 218.9,79.5 219.6,79.3 220.2,79.1 220.9,78.8 221.5,78.6 222.2,78.4 222.8,78.1 223.5,77.9 224.2,77.7 224.9,77.5 225.5,77.4 226.2,77.2 226.9,77.0 227.6,76.9 228.3,76.7 229.0,76.5 229.6,76.4 230.3,76.3 231.0,76.1 231.7,76.0 232.4,76.0 233.0,75.9 233.7,75.9 234.4,75.9 235.1,76.0 235.8,76.0 236.5,76.1 237.2,76.2 237.9,76.4 238.6,76.6 239.3,76.8 240.0,77.0 240.6,77.3 241.2,77.5 241.8,77.8 242.3,78.1 242.9,78.4 243.5,78.7 244.1,79.0 244.8,79.3 245.4,79.6 246.1,80.0 246.8,80.4 247.5,80.7 248.4,81.3 249.4,81.9 250.4,82.5 251.4,83.1 252.4,83.7 253.4,84.3 254.4,85.0 255.3,85.6 256.3,86.2 257.3,86.8 258.2,87.4 259.2,88.0 260.2,88.5 261.1,89.0 262.1,89.5 263.0,90.0 264.0,90.4 265.0,90.8 265.9,91.2 266.9,91.6 267.9,91.9 268.9,92.2 269.9,92.5 270.9,92.8 271.9,93.2 272.8,93.5 273.8,93.8 274.8,94.0 275.7,94.3 276.7,94.6 277.7,94.8 278.7,95.0 279.6,95.2 280.6,95.4 281.6,95.5 282.6,95.7 283.6,95.8 284.5,96.0 285.5,96.1 286.5,96.3 287.4,96.4 288.4,96.5 289.4,96.6 290.3,96.7 291.3,96.8 292.3,96.9 293.2,97.0 294.2,96.9 295.2,96.8 296.2,96.7 297.2,96.5 298.2,96.3 299.1,96.0 300.0,95.7 300.6,95.5 301.1,95.3 301.7,95.1 302.2,94.9 302.6,94.6 303.0,94.4 303.3,94.2 303.5,94.0 303.7,93.8 303.9,93.6 304.0,93.5 304.2,93.5 304.5,94.2 304.5,95.6 304.5,97.6 304.4,99.7 304.3,101.9 304.2,103.8 304.2,105.5 304.2,107.2 304.2,108.9 304.2,110.5 304.1,112.1 304.1,113.6 304.0,114.7 304.0,115.8 303.9,116.8 303.8,117.8 303.7,118.7 303.6,119.7 303.4,120.5 303.2,121.4 303.0,122.2 302.8,123.1 302.6,123.8 302.3,124.6 302.0,125.2 301.7,125.8 301.4,126.4 301.1,126.9 300.8,127.4 300.4,128.0 299.9,128.5 299.4,129.0 298.9,129.5 298.3,129.9 297.8,130.4 297.2,130.8 296.6,131.2 296.0,131.6 295.4,131.9 294.8,132.3 294.1,132.6 293.4,132.9 292.4,133.2 291.4,133.5 290.3,133.8 289.2,134.1 288.1,134.3 287.0,134.5 285.9,134.7 284.8,134.8 283.8,135.0 282.7,135.1 281.7,135.2 280.7,135.4 279.9,135.4 279.1,135.5 278.4,135.6 277.7,135.7 276.9,135.8 276.1,135.9 274.6,136.2 273.0,136.5 271.2,136.8 269.4,137.2 267.6,137.5 265.8,137.9 264.1,138.3 262.4,138.8 260.7,139.2 259.1,139.7 257.4,140.2 255.8,140.8 254.2,141.4 252.6,142.0 251.1,142.7 249.6,143.4 248.1,144.2 246.7,145.0 245.6,145.7 244.5,146.5 243.5,147.3 242.5,148.1 241.5,148.9 240.4,149.7 239.4,150.6 238.4,151.4 237.3,152.3 236.3,153.2 235.2,154.1 234.2,154.9 233.1,155.7 232.1,156.5 231.1,157.3 230.0,158.0 228.9,158.8 227.7,159.5 226.2,160.4 224.5,161.2 222.8,162.1 221.0,162.9 219.3,163.6 217.7,164.3 216.3,164.8 215.0,165.2 213.6,165.6 212.4,166.0 211.1,166.3 209.9,166.6 209.0,166.8 208.2,166.9 207.3,167.1 206.5,167.2 205.7,167.3 205.0,167.4 204.3,167.5 203.8,167.6 203.2,167.7 202.6,167.7 202.0,167.8 201.3,167.7 199.9,167.6 198.3,167.3 196.5,166.9 194.7,166.4 192.8,165.9 191.1,165.4 189.4,164.9 187.7,164.3 186.0,163.6 184.3,162.9 182.6,162.3 180.9,161.7 179.2,161.2 177.5,160.7 175.8,160.2 174.1,159.8 172.4,159.3 170.7,158.9 169.0,158.6 167.3,158.2 165.6,157.9 163.9,157.6 162.1,157.3 160.4,157.1 158.7,156.8 157.0,156.6 155.3,156.5 153.6,156.3 151.9,156.2 150.2,156.0 148.5,156.0 146.8,155.9 145.2,155.8 143.5,155.8 141.8,155.8 140.0,155.8 138.0,155.9 135.8,156.0 133.7,156.2 131.5,156.3 129.4,156.5 127.4,156.7 125.8,156.8 124.2,157.0 122.6,157.1 121.1,157.3 119.5,157.4 117.9,157.6 116.4,157.8 114.8,158.0 113.2,158.2 111.6,158.3 110.0,158.5 108.5,158.6 106.9,158.7 105.3,158.7 103.7,158.7 102.1,158.7 100.6,158.7 99.0,158.7 97.3,158.8 95.7,158.8 94.0,158.8 92.4,158.8 90.8,158.8 89.5,159.0 88.6,159.1 87.6,159.3 86.7,159.5 85.9,159.7 85.4,159.9 85.2,160.0 85.2,160.0 85.2,160.0 85.2,160.0 85.2,160.0 85.2,160.0 85.2,160.0Z" fill="none" stroke="#000080" stroke-width="2.1" stroke-linejoin="round"/>
<path d="M85.2,168.2 85.3,167.6 85.3,166.2 85.4,164.1 85.5,161.7 85.6,159.3 85.7,157.2 85.8,155.2 85.9,153.0 86.0,150.9 86.1,148.8 86.2,146.7 86.3,144.7 86.4,143.1 86.4,141.4 86.5,139.8 86.6,138.3 86.7,136.8 86.9,135.5 87.0,134.4 87.1,133.4 87.2,132.5 87.4,131.5 87.5,130.7 87.7,129.9 87.9,129.3 88.1,128.7 88.3,128.2 88.5,127.7 88.7,127.2 88.9,126.7 89.1,126.3 89.3,125.8 89.6,125.4 89.8,125.1 90.1,124.7 90.4,124.3 90.6,124.0 90.8,123.7 91.0,123.4 91.2,123.1 91.5,122.8 91.8,122.6 92.3,122.2 92.8,121.8 93.4,121.5 94.0,121.2 94.7,120.8 95.3,120.5 96.0,120.2 96.7,119.9 97.3,119.5 98.1,119.2 98.8,118.9 99.7,118.6 101.2,118.2 102.8,117.8 104.6,117.4 106.4,117.0 108.2,116.7 109.9,116.4 111.3,116.1 112.6,116.0 113.9,115.8 115.2,115.7 116.6,115.5 117.9,115.3 119.7,115.0 121.5,114.7 123.3,114.4 125.2,114.0 127.1,113.7 128.9,113.2 130.8,112.8 132.6,112.3 134.5,111.9 136.4,111.3 138.2,110.8 140.0,110.2 141.7,109.6 143.4,109.0 145.1,108.3 146.7,107.7 148.4,107.0 150.1,106.4 151.7,105.7 153.4,105.1 155.0,104.4 156.7,103.8 158.4,103.1 160.0,102.4 161.7,101.7 163.3,101.0 165.0,100.2 166.6,99.5 168.3,98.7 169.9,97.9 171.6,97.1 173.2,96.4 174.9,95.6 176.6,94.8 178.2,93.9 179.9,93.1 181.6,92.1 183.3,91.1 185.1,90.0 186.7,89.0 188.3,87.9 189.8,86.9 190.8,86.2 191.7,85.4 192.6,84.7 193.4,84.0 194.2,83.3 195.0,82.6 195.8,81.9 196.4,81.3 197.1,80.6 197.8,80.0 198.5,79.4 199.1,78.8 199.8,78.2 200.4,77.6 201.1,77.0 201.7,76.5 202.4,76.0 203.1,75.4 203.7,74.9 204.4,74.4 205.1,73.9 205.8,73.4 206.5,73.0 207.2,72.5 207.8,72.1 208.5,71.8 209.2,71.4 209.9,71.0 210.6,70.7 211.2,70.3 211.9,70.0 212.6,69.6 213.3,69.3 214.0,68.9 214.6,68.6 215.3,68.3 216.0,68.0 216.7,67.8 217.5,67.5 218.2,67.3 218.9,67.0 219.6,66.7 220.2,66.5 220.9,66.2 221.5,65.9 222.2,65.6 222.8,65.3 223.5,65.0 224.2,64.8 224.9,64.6 225.5,64.3 226.2,64.1 226.9,63.9 227.6,63.6 228.3,63.4 229.0,63.2 229.6,63.0 230.3,62.8 231.0,62.6 231.7,62.5 232.4,62.4 233.0,62.3 233.7,62.2 234.4,62.2 235.1,62.2 235.8,62.3 236.5,62.4 237.2,62.6 237.9,62.8 238.6,63.0 239.3,63.2 240.0,63.5 240.6,63.8 241.2,64.1 241.8,64.5 242.4,64.9 242.9,65.3 243.5,65.6 244.1,66.0 244.8,66.5 245.4,66.9 246.1,67.3 246.8,67.8 247.5,68.3 248.4,69.0 249.4,69.7 250.4,70.5 251.4,71.3 252.4,72.1 253.4,72.9 254.4,73.7 255.3,74.5 256.3,75.3 257.3,76.1 258.2,76.9 259.2,77.7 260.2,78.3 261.1,79.0 262.1,79.7 263.0,80.3 264.0,80.9 265.0,81.5 265.9,82.0 266.9,82.4 267.9,82.9 268.9,83.3 269.9,83.7 270.9,84.1 271.9,84.5 272.8,84.9 273.8,85.3 274.8,85.7 275.7,86.1 276.7,86.4 277.7,86.7 278.7,87.0 279.6,87.2 280.6,87.4 281.6,87.7 282.6,87.9 283.6,88.1 284.5,88.3 285.5,88.5 286.5,88.7 287.4,88.9 288.4,89.1 289.4,89.3 290.3,89.4 291.3,89.6 292.3,89.7 293.2,89.8 294.2,89.8 295.2,89.7 296.2,89.6 297.2,89.4 298.2,89.2 299.2,89.0 300.0,88.7 300.6,88.5 301.1,88.3 301.7,88.0 302.2,87.7 302.6,87.5 303.0,87.2 303.3,87.0 303.5,86.8 303.7,86.6 303.9,86.4 304.0,86.2 304.2,86.2 304.5,87.1 304.6,88.9 304.5,91.3 304.4,94.1 304.3,96.9 304.2,99.3 304.2,101.4 304.2,103.6 304.2,105.7 304.2,107.8 304.1,109.8 304.1,111.7 304.0,113.1 304.0,114.4 303.9,115.6 303.8,116.9 303.7,118.1 303.6,119.3 303.4,120.4 303.2,121.5 303.0,122.6 302.8,123.6 302.6,124.6 302.3,125.6 302.0,126.4 301.7,127.2 301.5,127.9 301.1,128.6 300.8,129.3 300.4,129.9 299.9,130.5 299.4,131.1 298.9,131.7 298.3,132.2 297.8,132.8 297.2,133.3 296.6,133.7 296.0,134.2 295.4,134.6 294.8,135.0 294.1,135.3 293.4,135.7 292.4,136.0 291.4,136.4 290.3,136.7 289.2,136.9 288.1,137.2 287.0,137.4 285.9,137.6 284.8,137.8 283.8,137.9 282.7,138.0 281.7,138.2 280.7,138.3 279.9,138.4 279.1,138.5 278.4,138.6 277.7,138.7 276.9,138.8 276.1,138.9 274.6,139.2 272.9,139.6 271.2,140.0 269.4,140.4 267.6,140.9 265.8,141.4 264.1,141.9 262.4,142.4 260.7,143.0 259.1,143.6 257.4,144.2 255.8,145.0 254.2,145.7 252.6,146.5 251.0,147.4 249.5,148.3 248.1,149.3 246.7,150.3 245.6,151.2 244.5,152.2 243.5,153.2 242.5,154.2 241.5,155.2 240.4,156.3 239.4,157.4 238.3,158.5 237.3,159.7 236.3,160.8 235.2,162.0 234.2,163.1 233.1,164.1 232.1,165.1 231.1,166.1 230.1,167.1 228.9,168.0 227.7,169.0 226.2,170.0 224.6,171.1 222.8,172.2 221.1,173.2 219.3,174.1 217.7,174.9 216.3,175.5 215.0,176.0 213.7,176.5 212.4,176.9 211.1,177.2 209.9,177.6 209.0,177.8 208.2,178.0 207.3,178.2 206.5,178.4 205.7,178.5 205.0,178.6 204.3,178.8 203.8,178.9 203.2,179.0 202.6,179.0 202.0,179.0 201.3,179.0 199.9,178.8 198.3,178.4 196.5,177.9 194.7,177.4 192.8,176.8 191.1,176.1 189.4,175.4 187.7,174.6 186.0,173.8 184.3,172.9 182.6,172.1 180.9,171.3 179.2,170.7 177.5,170.0 175.8,169.4 174.1,168.8 172.4,168.2 170.7,167.7 169.0,167.2 167.3,166.7 165.6,166.3 163.9,165.9 162.1,165.6 160.4,165.3 158.7,165.0 157.0,164.7 155.3,164.4 153.6,164.2 151.9,164.0 150.2,163.9 148.5,163.8 146.9,163.7 145.2,163.6 143.5,163.6 141.8,163.6 140.0,163.6 138.0,163.7 135.8,163.8 133.7,164.0 131.5,164.2 129.4,164.4 127.4,164.6 125.8,164.7 124.2,164.9 122.6,165.1 121.1,165.3 119.5,165.5 117.9,165.7 116.4,165.9 114.8,166.1 113.2,166.3 111.6,166.5 110.0,166.7 108.5,166.8 106.9,166.9 105.3,166.9 103.7,166.8 102.1,166.8 100.6,166.8 99.0,166.7 97.3,166.7 95.7,166.7 94.0,166.7 92.4,166.7 90.8,166.7 89.5,166.9 88.6,167.1 87.6,167.3 86.7,167.6 85.9,167.9 85.4,168.1 85.2,168.2 85.2,168.2 85.2,168.2 85.2,168.2 85.2,168.2 85.2,168.2 85.2,168.2Z" fill="none" stroke="#8000ff" stroke-width="2.1" stroke-linejoin="round"/>
<path d="M85.2,173.3 85.3,172.7 85.3,171.1 85.4,168.8 85.5,166.1 85.6,163.4 85.7,161.1 85.8,158.8 85.9,156.4 86.0,154.0 86.1,151.6 86.2,149.2 86.3,147.0 86.4,145.1 86.4,143.3 86.5,141.4 86.6,139.7 86.7,138.0 86.9,136.4 87.0,135.2 87.1,134.1 87.2,133.0 87.4,132.0 87.5,131.0 87.7,130.0 87.9,129.3 88.1,128.7 88.3,128.1 88.5,127.5 88.7,126.9 88.9,126.4 89.1,125.9 89.3,125.4 89.6,125.0 89.8,124.5 90.1,124.1 90.4,123.7 90.6,123.3 90.8,122.9 91.0,122.6 91.2,122.3 91.5,121.9 91.8,121.6 92.3,121.2 92.8,120.8 93.4,120.4 94.0,120.0 94.7,119.7 95.3,119.3 96.0,118.9 96.7,118.6 97.3,118.2 98.1,117.8 98.8,117.5 99.7,117.2 101.2,116.7 102.8,116.2 104.6,115.8 106.4,115.4 108.2,115.0 109.9,114.7 111.3,114.5 112.6,114.3 113.9,114.1 115.2,114.0 116.6,113.8 117.9,113.6 119.7,113.3 121.5,112.9 123.3,112.6 125.2,112.2 127.1,111.8 128.9,111.3 130.8,110.8 132.6,110.3 134.5,109.8 136.4,109.2 138.2,108.6 140.0,108.0 141.7,107.3 143.4,106.6 145.1,105.9 146.7,105.1 148.4,104.4 150.1,103.6 151.7,102.9 153.4,102.2 155.0,101.5 156.7,100.8 158.4,100.0 160.0,99.3 161.7,98.4 163.3,97.6 165.0,96.8 166.6,95.9 168.3,95.0 169.9,94.2 171.6,93.3 173.3,92.4 174.9,91.5 176.6,90.6 178.2,89.7 179.9,88.7 181.6,87.6 183.3,86.5 185.1,85.3 186.7,84.1 188.3,82.9 189.8,81.7 190.8,80.9 191.7,80.1 192.6,79.2 193.4,78.4 194.2,77.6 195.0,76.8 195.8,76.1 196.4,75.3 197.1,74.6 197.8,73.9 198.5,73.1 199.1,72.4 199.8,71.8 200.4,71.1 201.1,70.5 201.7,69.9 202.4,69.3 203.1,68.7 203.7,68.1 204.4,67.5 205.1,67.0 205.8,66.4 206.5,65.9 207.2,65.4 207.8,65.0 208.5,64.5 209.2,64.1 209.9,63.7 210.6,63.3 211.2,62.9 211.9,62.5 212.6,62.1 213.3,61.8 214.0,61.4 214.6,61.0 215.3,60.7 216.0,60.3 216.7,60.1 217.5,59.8 218.2,59.5 218.9,59.2 219.6,58.9 220.2,58.6 220.9,58.3 221.5,58.0 222.2,57.6 222.8,57.3 223.5,57.0 224.2,56.7 224.9,56.5 225.5,56.2 226.2,55.9 226.9,55.7 227.6,55.4 228.3,55.2 229.0,54.9 229.6,54.6 230.3,54.4 231.0,54.2 231.7,54.0 232.4,53.9 233.0,53.8 233.7,53.7 234.4,53.7 235.1,53.7 235.8,53.8 236.5,53.9 237.2,54.0 237.9,54.3 238.6,54.5 239.3,54.8 240.0,55.1 240.6,55.4 241.2,55.8 241.8,56.2 242.4,56.6 242.9,57.1 243.5,57.5 244.1,58.0 244.8,58.4 245.4,58.9 246.1,59.4 246.8,60.0 247.5,60.5 248.4,61.3 249.4,62.2 250.4,63.1 251.4,64.0 252.4,64.9 253.4,65.9 254.4,66.8 255.3,67.7 256.3,68.6 257.3,69.5 258.2,70.4 259.2,71.2 260.1,72.0 261.1,72.8 262.0,73.5 263.0,74.3 264.0,75.0 265.0,75.6 265.9,76.2 266.9,76.7 267.9,77.2 268.9,77.7 269.9,78.2 270.9,78.7 271.9,79.1 272.8,79.6 273.8,80.1 274.7,80.5 275.7,80.9 276.7,81.3 277.7,81.6 278.6,82.0 279.6,82.2 280.6,82.5 281.6,82.8 282.6,83.1 283.6,83.3 284.5,83.6 285.5,83.8 286.5,84.1 287.4,84.3 288.4,84.5 289.4,84.7 290.3,84.9 291.3,85.0 292.3,85.2 293.2,85.3 294.2,85.3 295.2,85.2 296.2,85.1 297.2,85.0 298.2,84.8 299.2,84.6 300.0,84.3 300.6,84.1 301.1,83.8 301.7,83.6 302.2,83.3 302.6,83.0 303.0,82.7 303.3,82.5 303.5,82.3 303.7,82.0 303.9,81.8 304.0,81.7 304.2,81.7 304.5,82.6 304.6,84.6 304.6,87.4 304.4,90.6 304.3,93.8 304.2,96.5 304.2,98.9 304.2,101.3 304.2,103.8 304.2,106.1 304.1,108.4 304.1,110.5 304.0,112.1 304.0,113.5 303.9,114.9 303.8,116.3 303.7,117.7 303.6,119.0 303.4,120.3 303.3,121.5 303.0,122.8 302.8,124.0 302.6,125.1 302.3,126.3 302.0,127.1 301.7,128.0 301.5,128.8 301.1,129.6 300.8,130.4 300.4,131.1 299.9,131.8 299.4,132.5 298.9,133.1 298.3,133.7 297.8,134.2 297.2,134.8 296.6,135.3 296.0,135.8 295.4,136.2 294.8,136.6 294.1,137.0 293.4,137.4 292.4,137.8 291.4,138.1 290.3,138.4 289.2,138.7 288.1,138.9 287.0,139.2 285.9,139.4 284.8,139.6 283.8,139.7 282.7,139.9 281.7,140.0 280.7,140.1 279.9,140.3 279.1,140.3 278.4,140.4 277.7,140.5 276.9,140.6 276.1,140.8 274.6,141.1 272.9,141.5 271.2,142.0 269.4,142.5 267.6,143.0 265.8,143.6 264.1,144.1 262.4,144.7 260.7,145.4 259.0,146.0 257.4,146.8 255.8,147.6 254.2,148.4 252.6,149.4 251.0,150.3 249.5,151.4 248.1,152.4 246.7,153.5 245.6,154.6 244.5,155.7 243.4,156.8 242.4,158.0 241.5,159.2 240.4,160.4 239.4,161.6 238.3,162.9 237.3,164.3 236.3,165.6 235.2,166.9 234.2,168.1 233.1,169.3 232.1,170.5 231.1,171.6 230.1,172.7 228.9,173.8 227.7,174.9 226.2,176.1 224.6,177.3 222.8,178.5 221.1,179.6 219.3,180.6 217.7,181.5 216.3,182.1 215.0,182.7 213.7,183.2 212.4,183.7 211.1,184.1 209.9,184.4 209.0,184.7 208.2,184.9 207.3,185.1 206.5,185.3 205.7,185.5 205.0,185.6 204.3,185.7 203.8,185.9 203.2,186.0 202.6,186.0 202.0,186.1 201.3,186.0 199.9,185.8 198.3,185.4 196.5,184.8 194.7,184.2 192.8,183.5 191.1,182.8 189.4,182.0 187.7,181.1 186.0,180.1 184.3,179.2 182.6,178.2 180.9,177.3 179.2,176.5 177.5,175.8 175.8,175.1 174.1,174.4 172.4,173.7 170.7,173.1 169.0,172.6 167.3,172.0 165.6,171.6 163.9,171.1 162.1,170.7 160.4,170.4 158.7,170.0 157.0,169.7 155.3,169.4 153.6,169.2 151.9,169.0 150.2,168.8 148.5,168.6 146.9,168.5 145.2,168.4 143.5,168.4 141.8,168.4 140.0,168.4 138.0,168.5 135.8,168.7 133.7,168.8 131.5,169.0 129.4,169.3 127.4,169.5 125.8,169.7 124.2,169.9 122.6,170.1 121.1,170.3 119.5,170.5 117.9,170.7 116.4,170.9 114.8,171.1 113.2,171.4 111.6,171.6 110.0,171.8 108.5,171.9 106.9,171.9 105.3,171.9 103.7,171.9 102.1,171.8 100.6,171.7 99.0,171.7 97.3,171.7 95.7,171.7 94.0,171.6 92.4,171.6 90.8,171.7 89.5,171.8 88.6,172.0 87.6,172.3 86.7,172.7 85.9,173.0 85.4,173.2 85.2,173.3 85.2,173.3 85.2,173.3 85.2,173.3 85.2,173.3 85.2,173.3 85.2,173.3Z" fill="none" stroke="#800080" stroke-width="2.1" stroke-linejoin="round"/>
<path d="M85.2,178.3 85.3,177.6 85.3,175.9 85.4,173.3 85.5,170.4 85.6,167.5 85.7,164.9 85.8,162.3 85.9,159.7 86.0,157.0 86.1,154.3 86.2,151.7 86.3,149.2 86.4,147.1 86.4,145.0 86.5,143.0 86.6,141.0 86.7,139.2 86.9,137.4 87.0,136.0 87.1,134.8 87.2,133.5 87.4,132.3 87.5,131.2 87.7,130.2 87.9,129.4 88.1,128.7 88.3,128.0 88.5,127.3 88.7,126.7 88.9,126.1 89.1,125.5 89.3,125.0 89.6,124.5 89.8,124.0 90.1,123.5 90.4,123.0 90.6,122.6 90.8,122.2 91.0,121.8 91.2,121.4 91.5,121.1 91.8,120.7 92.3,120.2 92.8,119.8 93.4,119.4 94.0,118.9 94.7,118.5 95.3,118.1 96.0,117.7 96.7,117.3 97.3,116.9 98.1,116.5 98.8,116.1 99.7,115.8 101.2,115.2 102.8,114.7 104.6,114.3 106.4,113.8 108.2,113.4 109.9,113.1 111.3,112.8 112.6,112.6 113.9,112.4 115.2,112.3 116.6,112.1 117.9,111.9 119.7,111.5 121.5,111.2 123.3,110.8 125.2,110.3 127.1,109.9 128.9,109.4 130.8,108.9 132.6,108.3 134.5,107.7 136.4,107.1 138.2,106.4 140.0,105.7 141.7,105.0 143.4,104.2 145.1,103.4 146.7,102.6 148.4,101.8 150.1,101.0 151.7,100.2 153.4,99.4 155.1,98.6 156.7,97.8 158.4,97.0 160.0,96.1 161.7,95.2 163.3,94.3 165.0,93.4 166.6,92.4 168.3,91.4 169.9,90.5 171.6,89.5 173.3,88.5 174.9,87.6 176.6,86.6 178.2,85.5 179.9,84.5 181.6,83.2 183.3,81.9 185.1,80.6 186.8,79.3 188.3,77.9 189.8,76.7 190.8,75.7 191.7,74.8 192.6,73.9 193.4,73.0 194.2,72.0 195.0,71.1 195.8,70.3 196.4,69.5 197.1,68.7 197.8,67.8 198.4,67.0 199.1,66.2 199.8,65.5 200.4,64.8 201.1,64.1 201.7,63.4 202.4,62.7 203.1,62.0 203.7,61.4 204.4,60.8 205.1,60.2 205.8,59.6 206.5,59.0 207.2,58.4 207.8,57.9 208.5,57.5 209.2,57.0 209.9,56.6 210.6,56.1 211.2,55.7 211.9,55.2 212.6,54.8 213.3,54.4 214.0,53.9 214.6,53.5 215.3,53.2 216.0,52.8 216.7,52.5 217.4,52.2 218.2,51.9 218.9,51.6 219.6,51.3 220.2,50.9 220.9,50.6 221.5,50.2 222.2,49.8 222.8,49.5 223.5,49.2 224.2,48.8 224.9,48.5 225.5,48.2 226.2,47.9 226.9,47.6 227.6,47.4 228.3,47.1 229.0,46.8 229.6,46.4 230.3,46.2 231.0,45.9 231.7,45.7 232.4,45.6 233.0,45.5 233.7,45.4 234.4,45.3 235.1,45.3 235.8,45.4 236.5,45.5 237.2,45.7 237.9,45.9 238.6,46.2 239.3,46.5 240.0,46.9 240.6,47.2 241.2,47.6 241.8,48.1 242.4,48.6 242.9,49.1 243.5,49.5 244.2,50.1 244.8,50.6 245.4,51.1 246.1,51.7 246.8,52.3 247.5,52.9 248.4,53.8 249.4,54.8 250.4,55.8 251.4,56.8 252.4,57.9 253.4,58.9 254.4,59.9 255.3,60.9 256.3,62.0 257.3,63.0 258.2,64.0 259.2,64.9 260.1,65.8 261.1,66.7 262.0,67.5 263.0,68.4 264.0,69.1 265.0,69.9 265.9,70.5 266.9,71.1 267.9,71.7 268.9,72.3 269.9,72.8 270.9,73.3 271.9,73.9 272.8,74.4 273.8,74.9 274.7,75.4 275.7,75.9 276.7,76.3 277.7,76.7 278.6,77.1 279.6,77.4 280.6,77.7 281.6,78.0 282.6,78.3 283.6,78.6 284.5,78.9 285.5,79.2 286.5,79.5 287.4,79.7 288.4,79.9 289.4,80.2 290.3,80.4 291.3,80.6 292.3,80.8 293.2,80.9 294.2,80.9 295.2,80.9 296.2,80.8 297.2,80.7 298.2,80.5 299.2,80.3 300.0,80.0 300.6,79.8 301.1,79.5 301.7,79.2 302.2,78.9 302.6,78.6 303.0,78.4 303.3,78.1 303.5,77.9 303.7,77.6 303.9,77.4 304.0,77.3 304.2,77.2 304.5,78.2 304.6,80.5 304.6,83.6 304.4,87.2 304.3,90.7 304.2,93.8 304.2,96.4 304.2,99.1 304.2,101.8 304.2,104.5 304.1,107.0 304.1,109.4 304.0,111.1 304.0,112.7 303.9,114.3 303.8,115.8 303.7,117.3 303.6,118.8 303.4,120.2 303.3,121.6 303.0,123.0 302.8,124.3 302.6,125.6 302.3,126.9 302.0,127.9 301.8,128.8 301.5,129.8 301.2,130.6 300.8,131.5 300.4,132.3 299.9,133.1 299.4,133.8 298.9,134.4 298.4,135.1 297.8,135.7 297.2,136.3 296.6,136.8 296.0,137.3 295.4,137.8 294.8,138.3 294.1,138.7 293.4,139.1 292.4,139.5 291.4,139.9 290.3,140.2 289.2,140.5 288.1,140.7 287.0,140.9 285.9,141.2 284.8,141.3 283.8,141.5 282.7,141.7 281.7,141.8 280.7,142.0 279.9,142.1 279.1,142.2 278.4,142.2 277.7,142.3 276.9,142.5 276.1,142.6 274.6,143.0 272.9,143.4 271.2,143.9 269.4,144.5 267.6,145.1 265.8,145.7 264.1,146.3 262.4,147.0 260.7,147.7 259.0,148.4 257.4,149.2 255.8,150.1 254.2,151.1 252.6,152.1 251.0,153.2 249.5,154.3 248.1,155.5 246.7,156.7 245.5,157.9 244.5,159.2 243.4,160.4 242.4,161.7 241.5,163.0 240.4,164.4 239.4,165.8 238.3,167.3 237.3,168.7 236.3,170.2 235.2,171.7 234.2,173.1 233.1,174.4 232.1,175.7 231.1,177.0 230.1,178.2 229.0,179.5 227.7,180.6 226.2,182.0 224.6,183.3 222.9,184.6 221.1,185.8 219.3,187.0 217.7,188.0 216.3,188.7 215.0,189.3 213.7,189.8 212.4,190.3 211.1,190.8 209.9,191.2 209.0,191.5 208.2,191.7 207.3,191.9 206.5,192.1 205.7,192.3 205.0,192.5 204.3,192.6 203.8,192.7 203.2,192.8 202.6,192.9 202.0,192.9 201.3,192.9 199.9,192.7 198.3,192.2 196.5,191.6 194.7,190.9 192.8,190.1 191.1,189.3 189.4,188.4 187.7,187.4 186.0,186.4 184.3,185.3 182.6,184.2 180.9,183.2 179.2,182.3 177.5,181.5 175.8,180.7 174.1,179.9 172.4,179.1 170.7,178.4 169.0,177.8 167.3,177.3 165.6,176.7 163.9,176.2 162.2,175.8 160.4,175.4 158.7,175.0 157.0,174.6 155.3,174.3 153.6,174.0 151.9,173.8 150.2,173.6 148.5,173.4 146.9,173.3 145.2,173.2 143.5,173.2 141.8,173.1 140.0,173.2 138.0,173.3 135.8,173.4 133.7,173.6 131.5,173.8 129.4,174.1 127.4,174.3 125.8,174.5 124.2,174.7 122.6,174.9 121.1,175.2 119.5,175.4 117.9,175.6 116.4,175.8 114.8,176.1 113.2,176.3 111.6,176.6 110.0,176.7 108.5,176.9 106.9,176.9 105.3,176.9 103.7,176.8 102.1,176.7 100.6,176.6 99.0,176.6 97.3,176.6 95.7,176.5 94.0,176.4 92.4,176.4 90.8,176.5 89.5,176.7 88.6,176.9 87.6,177.2 86.7,177.6 85.9,177.9 85.4,178.2 85.2,178.3 85.2,178.3 85.2,178.3 85.2,178.3 85.2,178.3 85.2,178.3 85.2,178.3Z" fill="none" stroke="#800000" stroke-width="2.1" stroke-linejoin="round"/>
<path d="M85.2,185.9 85.3,185.1 85.3,183.1 85.4,180.2 85.5,176.9 85.6,173.6 85.7,170.6 85.8,167.7 85.9,164.6 86.0,161.5 86.1,158.5 86.2,155.5 86.3,152.6 86.4,150.2 86.4,147.7 86.5,145.4 86.6,143.1 86.7,140.9 86.9,138.8 87.0,137.3 87.1,135.8 87.2,134.3 87.4,132.9 87.5,131.6 87.7,130.4 87.9,129.5 88.1,128.7 88.3,127.9 88.5,127.1 88.7,126.3 88.9,125.6 89.1,125.0 89.3,124.3 89.6,123.7 89.8,123.1 90.1,122.6 90.4,122.0 90.6,121.5 90.8,121.1 91.0,120.6 91.2,120.2 91.5,119.7 91.8,119.3 92.3,118.8 92.8,118.3 93.4,117.8 94.0,117.3 94.7,116.8 95.3,116.3 96.0,115.8 96.6,115.3 97.3,114.9 98.0,114.4 98.8,114.0 99.7,113.6 101.1,113.0 102.8,112.5 104.6,111.9 106.4,111.4 108.2,111.0 109.9,110.6 111.3,110.3 112.6,110.1 113.9,109.9 115.2,109.7 116.6,109.5 117.9,109.3 119.7,108.9 121.5,108.5 123.3,108.1 125.2,107.6 127.1,107.1 128.9,106.5 130.8,105.9 132.6,105.3 134.5,104.6 136.4,103.9 138.2,103.2 140.0,102.4 141.7,101.6 143.4,100.7 145.1,99.7 146.8,98.8 148.4,97.9 150.1,96.9 151.7,96.0 153.4,95.1 155.1,94.2 156.7,93.3 158.4,92.4 160.0,91.4 161.7,90.4 163.3,89.3 165.0,88.2 166.6,87.1 168.3,86.0 169.9,84.9 171.6,83.8 173.3,82.7 174.9,81.6 176.6,80.5 178.2,79.3 179.9,78.0 181.6,76.6 183.3,75.1 185.1,73.6 186.8,72.0 188.3,70.5 189.8,69.0 190.8,67.9 191.7,66.8 192.6,65.8 193.4,64.7 194.2,63.6 195.0,62.6 195.8,61.6 196.5,60.7 197.1,59.7 197.8,58.8 198.4,57.8 199.1,56.9 199.8,56.1 200.4,55.2 201.1,54.4 201.7,53.6 202.4,52.8 203.1,52.0 203.7,51.3 204.4,50.6 205.1,49.9 205.8,49.2 206.5,48.5 207.2,47.9 207.8,47.3 208.5,46.8 209.2,46.3 209.9,45.7 210.6,45.2 211.2,44.7 211.9,44.2 212.6,43.7 213.3,43.2 213.9,42.7 214.6,42.3 215.3,41.8 216.0,41.4 216.7,41.1 217.4,40.7 218.2,40.4 218.9,40.0 219.6,39.7 220.2,39.3 220.9,38.9 221.5,38.5 222.2,38.1 222.8,37.7 223.5,37.3 224.2,36.9 224.9,36.6 225.5,36.2 226.2,35.9 226.9,35.5 227.6,35.2 228.3,34.8 228.9,34.5 229.6,34.1 230.3,33.7 231.0,33.4 231.7,33.2 232.4,33.0 233.0,32.9 233.7,32.7 234.4,32.7 235.1,32.7 235.8,32.7 236.5,32.9 237.2,33.1 237.9,33.3 238.7,33.7 239.3,34.0 240.0,34.4 240.6,34.8 241.2,35.3 241.8,35.8 242.4,36.4 242.9,37.0 243.5,37.5 244.2,38.1 244.8,38.7 245.4,39.4 246.1,40.0 246.8,40.7 247.5,41.4 248.4,42.5 249.4,43.6 250.4,44.8 251.4,46.0 252.4,47.2 253.4,48.4 254.4,49.6 255.3,50.7 256.3,51.9 257.3,53.1 258.2,54.3 259.2,55.4 260.1,56.4 261.1,57.5 262.0,58.5 263.0,59.4 264.0,60.3 265.0,61.2 265.9,62.0 266.9,62.7 267.9,63.4 268.9,64.0 269.9,64.7 270.9,65.3 271.9,65.9 272.8,66.5 273.8,67.1 274.7,67.7 275.7,68.3 276.7,68.8 277.7,69.2 278.6,69.6 279.6,70.0 280.6,70.4 281.6,70.8 282.6,71.1 283.6,71.5 284.5,71.8 285.5,72.2 286.5,72.5 287.4,72.8 288.4,73.1 289.4,73.4 290.3,73.6 291.3,73.9 292.3,74.1 293.2,74.2 294.2,74.3 295.2,74.3 296.2,74.3 297.2,74.1 298.2,74.0 299.2,73.8 300.0,73.5 300.6,73.3 301.2,73.0 301.7,72.7 302.2,72.4 302.6,72.0 303.0,71.7 303.3,71.5 303.5,71.2 303.7,70.9 303.9,70.7 304.0,70.5 304.2,70.5 304.6,71.6 304.7,74.3 304.6,77.9 304.5,82.0 304.3,86.0 304.2,89.6 304.2,92.7 304.2,95.8 304.2,98.9 304.2,102.0 304.1,104.9 304.1,107.6 304.0,109.6 304.0,111.4 303.9,113.2 303.8,115.0 303.7,116.7 303.6,118.4 303.4,120.0 303.3,121.7 303.1,123.3 302.8,124.9 302.6,126.4 302.3,127.8 302.0,129.0 301.8,130.1 301.5,131.2 301.2,132.2 300.8,133.2 300.4,134.1 299.9,134.9 299.4,135.7 298.9,136.5 298.4,137.2 297.8,137.8 297.2,138.5 296.6,139.1 296.0,139.7 295.4,140.2 294.8,140.8 294.1,141.2 293.4,141.7 292.4,142.1 291.4,142.5 290.3,142.8 289.2,143.1 288.1,143.3 287.0,143.6 285.9,143.8 284.8,144.0 283.8,144.2 282.7,144.4 281.7,144.5 280.7,144.7 279.9,144.8 279.1,144.9 278.4,145.0 277.7,145.1 276.9,145.2 276.1,145.4 274.6,145.8 272.9,146.3 271.2,146.9 269.4,147.5 267.6,148.2 265.8,148.9 264.1,149.6 262.4,150.4 260.7,151.2 259.0,152.1 257.4,153.0 255.8,154.0 254.2,155.1 252.6,156.3 251.0,157.5 249.5,158.8 248.1,160.2 246.7,161.6 245.5,163.0 244.4,164.4 243.4,165.9 242.4,167.4 241.4,168.9 240.4,170.4 239.4,172.1 238.3,173.8 237.3,175.5 236.3,177.3 235.2,179.0 234.2,180.6 233.2,182.1 232.2,183.6 231.1,185.1 230.1,186.6 229.0,188.0 227.7,189.4 226.2,190.9 224.6,192.4 222.9,193.9 221.1,195.3 219.4,196.6 217.7,197.7 216.3,198.5 215.0,199.2 213.7,199.8 212.4,200.4 211.1,200.9 209.9,201.3 209.0,201.6 208.2,201.9 207.3,202.2 206.5,202.4 205.7,202.6 205.0,202.8 204.3,203.0 203.8,203.1 203.2,203.2 202.6,203.3 202.0,203.3 201.3,203.3 199.9,203.0 198.3,202.5 196.5,201.8 194.6,201.0 192.8,200.1 191.1,199.2 189.4,198.2 187.7,197.0 186.0,195.7 184.3,194.5 182.6,193.2 180.9,192.1 179.2,191.1 177.5,190.1 175.8,189.1 174.1,188.2 172.4,187.3 170.7,186.5 169.0,185.8 167.3,185.1 165.6,184.5 163.9,183.9 162.2,183.4 160.4,182.9 158.7,182.4 157.0,182.0 155.3,181.7 153.6,181.3 151.9,181.0 150.2,180.8 148.5,180.6 146.9,180.5 145.2,180.4 143.5,180.3 141.8,180.3 140.0,180.3 138.0,180.4 135.8,180.6 133.7,180.8 131.5,181.1 129.4,181.3 127.4,181.6 125.8,181.8 124.2,182.0 122.6,182.3 121.1,182.5 119.5,182.8 117.9,183.0 116.4,183.3 114.8,183.6 113.2,183.8 111.6,184.1 110.0,184.3 108.5,184.4 106.9,184.4 105.3,184.4 103.7,184.3 102.1,184.2 100.6,184.0 99.0,184.0 97.3,183.9 95.7,183.8 94.0,183.8 92.3,183.7 90.8,183.8 89.5,184.0 88.5,184.2 87.6,184.6 86.7,185.1 85.9,185.5 85.4,185.8 85.2,185.9 85.2,185.9 85.2,185.9 85.2,185.9 85.2,185.9 85.2,185.9 85.2,185.9Z" fill="none" stroke="#808000" stroke-width="2.1" stroke-linejoin="round"/>
<line x1="51.5" y1="5.6" x2="56" y2="5.6" stroke="#000" stroke-width="1.6" />
<text x="48.2" y="9" font-size="11" text-anchor="end" >0.20</text>
<line x1="51.5" y1="35.6" x2="56" y2="35.6" stroke="#000" stroke-width="1.6" />
<text x="48.2" y="39" font-size="11" text-anchor="end" >0.15</text>
<line x1="51.5" y1="65.6" x2="56" y2="65.6" stroke="#000" stroke-width="1.6" />
<text x="48.2" y="69" font-size="11" text-anchor="end" >0.10</text>
<line x1="51.5" y1="95.6" x2="56" y2="95.6" stroke="#000" stroke-width="1.6" />
<text x="48.2" y="99" font-size="11" text-anchor="end" >0.05</text>
<line x1="51.5" y1="125.6" x2="56" y2="125.6" stroke="#000" stroke-width="1.6" />
<text x="48.2" y="129" font-size="11" text-anchor="end" >0.00</text>
<line x1="51.5" y1="155.6" x2="56" y2="155.6" stroke="#000" stroke-width="1.6" />
<text x="48.2" y="159" font-size="11" text-anchor="end" >-0.05</text>
<line x1="51.5" y1="185.6" x2="56" y2="185.6" stroke="#000" stroke-width="1.6" />
<text x="48.2" y="189" font-size="11" text-anchor="end" >-0.10</text>
<line x1="51.5" y1="215.6" x2="56" y2="215.6" stroke="#000" stroke-width="1.6" />
<text x="48.2" y="219" font-size="11" text-anchor="end" >-0.15</text>
<line x1="53.7" y1="20.6" x2="56" y2="20.6" stroke="#000" stroke-width="1.4" />
<line x1="53.7" y1="50.6" x2="56" y2="50.6" stroke="#000" stroke-width="1.4" />
<line x1="53.7" y1="80.6" x2="56" y2="80.6" stroke="#000" stroke-width="1.4" />
<line x1="53.7" y1="110.6" x2="56" y2="110.6" stroke="#000" stroke-width="1.4" />
<line x1="53.7" y1="140.6" x2="56" y2="140.6" stroke="#000" stroke-width="1.4" />
<line x1="53.7" y1="170.6" x2="56" y2="170.6" stroke="#000" stroke-width="1.4" />
<line x1="53.7" y1="200.6" x2="56" y2="200.6" stroke="#000" stroke-width="1.4" />
<line x1="55.9" y1="231" x2="55.9" y2="235.5" stroke="#000" stroke-width="1.6" />
<text x="55.9" y="247" font-size="11" text-anchor="middle" >-1.2</text>
<line x1="85.1" y1="231" x2="85.1" y2="235.5" stroke="#000" stroke-width="1.6" />
<text x="85.1" y="247" font-size="11" text-anchor="middle" >-1.0</text>
<line x1="114.3" y1="231" x2="114.3" y2="235.5" stroke="#000" stroke-width="1.6" />
<text x="114.3" y="247" font-size="11" text-anchor="middle" >-0.8</text>
<line x1="143.5" y1="231" x2="143.5" y2="235.5" stroke="#000" stroke-width="1.6" />
<text x="143.5" y="247" font-size="11" text-anchor="middle" >-0.6</text>
<line x1="172.7" y1="231" x2="172.7" y2="235.5" stroke="#000" stroke-width="1.6" />
<text x="172.7" y="247" font-size="11" text-anchor="middle" >-0.4</text>
<line x1="201.9" y1="231" x2="201.9" y2="235.5" stroke="#000" stroke-width="1.6" />
<text x="201.9" y="247" font-size="11" text-anchor="middle" >-0.2</text>
<line x1="231.1" y1="231" x2="231.1" y2="235.5" stroke="#000" stroke-width="1.6" />
<text x="231.1" y="247" font-size="11" text-anchor="middle" >0.0</text>
<line x1="260.3" y1="231" x2="260.3" y2="235.5" stroke="#000" stroke-width="1.6" />
<text x="260.3" y="247" font-size="11" text-anchor="middle" >0.2</text>
<line x1="289.5" y1="231" x2="289.5" y2="235.5" stroke="#000" stroke-width="1.6" />
<text x="289.5" y="247" font-size="11" text-anchor="middle" >0.4</text>
<line x1="318.7" y1="231" x2="318.7" y2="235.5" stroke="#000" stroke-width="1.6" />
<text x="318.7" y="247" font-size="11" text-anchor="middle" >0.6</text>
<line x1="70.5" y1="231" x2="70.5" y2="233.3" stroke="#000" stroke-width="1.4" />
<line x1="99.7" y1="231" x2="99.7" y2="233.3" stroke="#000" stroke-width="1.4" />
<line x1="128.9" y1="231" x2="128.9" y2="233.3" stroke="#000" stroke-width="1.4" />
<line x1="158.1" y1="231" x2="158.1" y2="233.3" stroke="#000" stroke-width="1.4" />
<line x1="187.3" y1="231" x2="187.3" y2="233.3" stroke="#000" stroke-width="1.4" />
<line x1="216.5" y1="231" x2="216.5" y2="233.3" stroke="#000" stroke-width="1.4" />
<line x1="245.7" y1="231" x2="245.7" y2="233.3" stroke="#000" stroke-width="1.4" />
<line x1="274.9" y1="231" x2="274.9" y2="233.3" stroke="#000" stroke-width="1.4" />
<line x1="304.1" y1="231" x2="304.1" y2="233.3" stroke="#000" stroke-width="1.4" />
<text x="194.6" y="267.1" font-size="11.4" text-anchor="middle" >Potential (V) vs. Ag/AgCl</text>
<text x="0" y="0" font-size="11.5" text-anchor="middle" transform="translate(16.1,108.45) rotate(-90)">Current density (mA)</text>
<text x="67.2" y="26.6" font-size="11.3" text-anchor="start" >GCE-Mil101(Fe)-CQD-TiO<tspan font-size="8" dy="2.5">2</tspan></text>
<text x="306" y="20.7" font-size="16.5" text-anchor="start" >(a)</text>
<text x="232.7" y="30.6" font-size="10.8" text-anchor="middle" >a</text>
<text x="202" y="213.4" font-size="10.5" text-anchor="middle" >b</text>
<line x1="91.9" y1="100" x2="168.05" y2="60.88" stroke="#ff0000" stroke-width="1.3" />
<path d="M172.5,58.6 L168.21,63.39 L166.11,59.3Z" fill="#ff0000"/>
<line x1="298" y1="153" x2="229.93" y2="202.94" stroke="#ff0000" stroke-width="1.3" />
<path d="M225.9,205.9 L229.38,200.5 L232.1,204.21Z" fill="#ff0000"/>
<line x1="388.8" y1="2.9" x2="678.9" y2="2.9" stroke="#000" stroke-width="1.6" />
<line x1="678.1" y1="2.1" x2="678.1" y2="233.4" stroke="#000" stroke-width="1.6" />
<line x1="388.8" y1="2.1" x2="388.8" y2="234.35" stroke="#000" stroke-width="1.9" />
<line x1="387.85" y1="233.4" x2="678.9" y2="233.4" stroke="#000" stroke-width="1.9" />
<line x1="384.3" y1="21.8" x2="388.8" y2="21.8" stroke="#000" stroke-width="1.6" />
<text x="381.2" y="25.6" font-size="11.5" text-anchor="end" >0.15</text>
<line x1="384.3" y1="60.2" x2="388.8" y2="60.2" stroke="#000" stroke-width="1.6" />
<text x="381.2" y="64" font-size="11.5" text-anchor="end" >0.10</text>
<line x1="384.3" y1="98.6" x2="388.8" y2="98.6" stroke="#000" stroke-width="1.6" />
<text x="381.2" y="102.4" font-size="11.5" text-anchor="end" >0.05</text>
<line x1="384.3" y1="137" x2="388.8" y2="137" stroke="#000" stroke-width="1.6" />
<text x="381.2" y="140.8" font-size="11.5" text-anchor="end" >0.00</text>
<line x1="384.3" y1="175.4" x2="388.8" y2="175.4" stroke="#000" stroke-width="1.6" />
<text x="381.2" y="179.2" font-size="11.5" text-anchor="end" >-0.05</text>
<line x1="384.3" y1="213.8" x2="388.8" y2="213.8" stroke="#000" stroke-width="1.6" />
<text x="381.2" y="217.6" font-size="11.5" text-anchor="end" >-0.10</text>
<line x1="386.5" y1="2.6" x2="388.8" y2="2.6" stroke="#000" stroke-width="1.4" />
<line x1="386.5" y1="41" x2="388.8" y2="41" stroke="#000" stroke-width="1.4" />
<line x1="386.5" y1="79.4" x2="388.8" y2="79.4" stroke="#000" stroke-width="1.4" />
<line x1="386.5" y1="117.8" x2="388.8" y2="117.8" stroke="#000" stroke-width="1.4" />
<line x1="386.5" y1="156.2" x2="388.8" y2="156.2" stroke="#000" stroke-width="1.4" />
<line x1="386.5" y1="194.6" x2="388.8" y2="194.6" stroke="#000" stroke-width="1.4" />
<line x1="386.5" y1="233" x2="388.8" y2="233" stroke="#000" stroke-width="1.4" />
<line x1="405.1" y1="233.4" x2="405.1" y2="237.9" stroke="#000" stroke-width="1.6" />
<text x="405.1" y="250" font-size="11.5" text-anchor="middle" >3</text>
<line x1="439.2" y1="233.4" x2="439.2" y2="237.9" stroke="#000" stroke-width="1.6" />
<text x="439.2" y="250" font-size="11.5" text-anchor="middle" >4</text>
<line x1="473.3" y1="233.4" x2="473.3" y2="237.9" stroke="#000" stroke-width="1.6" />
<text x="473.3" y="250" font-size="11.5" text-anchor="middle" >5</text>
<line x1="507.4" y1="233.4" x2="507.4" y2="237.9" stroke="#000" stroke-width="1.6" />
<text x="507.4" y="250" font-size="11.5" text-anchor="middle" >6</text>
<line x1="541.5" y1="233.4" x2="541.5" y2="237.9" stroke="#000" stroke-width="1.6" />
<text x="541.5" y="250" font-size="11.5" text-anchor="middle" >7</text>
<line x1="575.6" y1="233.4" x2="575.6" y2="237.9" stroke="#000" stroke-width="1.6" />
<text x="575.6" y="250" font-size="11.5" text-anchor="middle" >8</text>
<line x1="609.7" y1="233.4" x2="609.7" y2="237.9" stroke="#000" stroke-width="1.6" />
<text x="609.7" y="250" font-size="11.5" text-anchor="middle" >9</text>
<line x1="643.8" y1="233.4" x2="643.8" y2="237.9" stroke="#000" stroke-width="1.6" />
<text x="643.8" y="250" font-size="11.5" text-anchor="middle" >10</text>
<line x1="677.9" y1="233.4" x2="677.9" y2="237.9" stroke="#000" stroke-width="1.6" />
<text x="677.9" y="250" font-size="11.5" text-anchor="middle" >11</text>
<line x1="388.05" y1="233.4" x2="388.05" y2="235.7" stroke="#000" stroke-width="1.4" />
<line x1="422.15" y1="233.4" x2="422.15" y2="235.7" stroke="#000" stroke-width="1.4" />
<line x1="456.25" y1="233.4" x2="456.25" y2="235.7" stroke="#000" stroke-width="1.4" />
<line x1="490.35" y1="233.4" x2="490.35" y2="235.7" stroke="#000" stroke-width="1.4" />
<line x1="524.45" y1="233.4" x2="524.45" y2="235.7" stroke="#000" stroke-width="1.4" />
<line x1="558.55" y1="233.4" x2="558.55" y2="235.7" stroke="#000" stroke-width="1.4" />
<line x1="592.65" y1="233.4" x2="592.65" y2="235.7" stroke="#000" stroke-width="1.4" />
<line x1="626.75" y1="233.4" x2="626.75" y2="235.7" stroke="#000" stroke-width="1.4" />
<line x1="660.85" y1="233.4" x2="660.85" y2="235.7" stroke="#000" stroke-width="1.4" />
<text x="533.25" y="270.4" font-size="11.6" text-anchor="middle" >(mVs<tspan font-size="8" dy="-4">-1</tspan><tspan dy="4">)</tspan><tspan font-size="8" dy="-4">1/2</tspan></text>
<text x="0" y="0" font-size="11.6" text-anchor="middle" transform="translate(349.5,117.55) rotate(-90)">Current density (mA)</text>
<line x1="410.8" y1="129.4" x2="644" y2="23.1" stroke="#000" stroke-width="1.9" />
<line x1="411.2" y1="149.4" x2="644" y2="223.1" stroke="#ff0000" stroke-width="1.9" />
<line x1="577.8" y1="48.5" x2="577.8" y2="57" stroke="#888" stroke-width="0.9" />
<line x1="575.4" y1="48.5" x2="580.2" y2="48.5" stroke="#888" stroke-width="0.9" />
<line x1="575.4" y1="57" x2="580.2" y2="57" stroke="#888" stroke-width="0.9" />
<line x1="617.5" y1="28.2" x2="617.5" y2="39.2" stroke="#888" stroke-width="0.9" />
<line x1="615.1" y1="28.2" x2="619.9" y2="28.2" stroke="#888" stroke-width="0.9" />
<line x1="615.1" y1="39.2" x2="619.9" y2="39.2" stroke="#888" stroke-width="0.9" />
<line x1="644.1" y1="12.4" x2="644.1" y2="23.8" stroke="#888" stroke-width="0.9" />
<line x1="641.7" y1="12.4" x2="646.5" y2="12.4" stroke="#888" stroke-width="0.9" />
<line x1="641.7" y1="23.8" x2="646.5" y2="23.8" stroke="#888" stroke-width="0.9" />
<line x1="644.1" y1="217" x2="644.1" y2="227" stroke="#ff8080" stroke-width="0.9" />
<line x1="641.7" y1="217" x2="646.5" y2="217" stroke="#ff8080" stroke-width="0.9" />
<line x1="641.7" y1="227" x2="646.5" y2="227" stroke="#ff8080" stroke-width="0.9" />
<line x1="617.5" y1="210" x2="617.5" y2="218.5" stroke="#ff8080" stroke-width="0.9" />
<line x1="615.1" y1="210" x2="619.9" y2="210" stroke="#ff8080" stroke-width="0.9" />
<line x1="615.1" y1="218.5" x2="619.9" y2="218.5" stroke="#ff8080" stroke-width="0.9" />
<circle cx="411.2" cy="122.8" r="3.7" fill="url(#gk)"/>
<circle cx="435.3" cy="115.8" r="3.7" fill="url(#gk)"/>
<circle cx="455.7" cy="109.7" r="3.7" fill="url(#gk)"/>
<circle cx="490.3" cy="97.7" r="3.7" fill="url(#gk)"/>
<circle cx="518.8" cy="85.2" r="3.7" fill="url(#gk)"/>
<circle cx="544.1" cy="73.6" r="3.7" fill="url(#gk)"/>
<circle cx="577.8" cy="52.7" r="3.7" fill="url(#gk)"/>
<circle cx="617.5" cy="33.4" r="3.7" fill="url(#gk)"/>
<circle cx="644.1" cy="18.2" r="3.7" fill="url(#gk)"/>
<circle cx="411.2" cy="152.7" r="3.75" fill="url(#gr)"/>
<circle cx="435.3" cy="155.8" r="3.75" fill="url(#gr)"/>
<circle cx="455.7" cy="161.2" r="3.75" fill="url(#gr)"/>
<circle cx="490.1" cy="172.2" r="3.75" fill="url(#gr)"/>
<circle cx="518.8" cy="180.5" r="3.75" fill="url(#gr)"/>
<circle cx="544.1" cy="191.1" r="3.75" fill="url(#gr)"/>
<circle cx="577.8" cy="205.5" r="3.75" fill="url(#gr)"/>
<circle cx="617.5" cy="214.2" r="3.75" fill="url(#gr)"/>
<circle cx="644.1" cy="221.9" r="3.75" fill="url(#gr)"/>
<text x="648.5" y="21.2" font-size="16.8" text-anchor="start" >(b)</text>
<text x="594.3" y="29" font-size="11.8" text-anchor="start" >I<tspan font-size="8.8" dy="3.5">a</tspan></text>
<text x="507.7" y="172.5" font-size="12" text-anchor="start" >I<tspan font-size="9" dy="3.2">c</tspan></text>
<text x="617.5" y="54.3" font-size="11.2" text-anchor="start" >r<tspan font-size="9.3" dy="-4.4">2</tspan><tspan dy="4.4"> = 0.98</tspan></text>
<text x="600.2" y="66.8" font-size="11.7" text-anchor="start" >Slope = 0.020</text>
<text x="568.2" y="174.1" font-size="11.45" text-anchor="start" >r<tspan font-size="9.3" dy="-4.4">2</tspan><tspan dy="4.4"> = 0.99</tspan></text>
<text x="566.2" y="191.4" font-size="11.9" text-anchor="start" >Slope = -0.014</text>
<line x1="47.3" y1="276.3" x2="335.8" y2="276.3" stroke="#000" stroke-width="1.6" />
<line x1="335" y1="275.5" x2="335" y2="510.4" stroke="#000" stroke-width="1.6" />
<line x1="47.3" y1="275.5" x2="47.3" y2="511.35" stroke="#000" stroke-width="1.9" />
<line x1="46.35" y1="510.4" x2="335.8" y2="510.4" stroke="#000" stroke-width="1.9" />
<line x1="42.8" y1="295.71" x2="47.3" y2="295.71" stroke="#000" stroke-width="1.6" />
<text x="39.3" y="299.71" font-size="11.5" text-anchor="end" >0.15</text>
<line x1="42.8" y1="334.75" x2="47.3" y2="334.75" stroke="#000" stroke-width="1.6" />
<text x="39.3" y="338.75" font-size="11.5" text-anchor="end" >0.10</text>
<line x1="42.8" y1="373.79" x2="47.3" y2="373.79" stroke="#000" stroke-width="1.6" />
<text x="39.3" y="377.79" font-size="11.5" text-anchor="end" >0.05</text>
<line x1="42.8" y1="412.83" x2="47.3" y2="412.83" stroke="#000" stroke-width="1.6" />
<text x="39.3" y="416.83" font-size="11.5" text-anchor="end" >0.00</text>
<line x1="42.8" y1="451.87" x2="47.3" y2="451.87" stroke="#000" stroke-width="1.6" />
<text x="39.3" y="455.87" font-size="11.5" text-anchor="end" >-0.05</text>
<line x1="42.8" y1="490.91" x2="47.3" y2="490.91" stroke="#000" stroke-width="1.6" />
<text x="39.3" y="494.91" font-size="11.5" text-anchor="end" >-0.10</text>
<line x1="45" y1="276.19" x2="47.3" y2="276.19" stroke="#000" stroke-width="1.4" />
<line x1="45" y1="315.23" x2="47.3" y2="315.23" stroke="#000" stroke-width="1.4" />
<line x1="45" y1="354.27" x2="47.3" y2="354.27" stroke="#000" stroke-width="1.4" />
<line x1="45" y1="393.31" x2="47.3" y2="393.31" stroke="#000" stroke-width="1.4" />
<line x1="45" y1="432.35" x2="47.3" y2="432.35" stroke="#000" stroke-width="1.4" />
<line x1="45" y1="471.39" x2="47.3" y2="471.39" stroke="#000" stroke-width="1.4" />
<line x1="47.4" y1="510.4" x2="47.4" y2="514.9" stroke="#000" stroke-width="1.6" />
<text x="47.4" y="527.2" font-size="11.5" text-anchor="middle" >-2.5</text>
<line x1="95.37" y1="510.4" x2="95.37" y2="514.9" stroke="#000" stroke-width="1.6" />
<text x="95.37" y="527.2" font-size="11.5" text-anchor="middle" >-2.0</text>
<line x1="143.33" y1="510.4" x2="143.33" y2="514.9" stroke="#000" stroke-width="1.6" />
<text x="143.33" y="527.2" font-size="11.5" text-anchor="middle" >-1.5</text>
<line x1="191.3" y1="510.4" x2="191.3" y2="514.9" stroke="#000" stroke-width="1.6" />
<text x="191.3" y="527.2" font-size="11.5" text-anchor="middle" >-1.0</text>
<line x1="239.26" y1="510.4" x2="239.26" y2="514.9" stroke="#000" stroke-width="1.6" />
<text x="239.26" y="527.2" font-size="11.5" text-anchor="middle" >-0.5</text>
<line x1="287.23" y1="510.4" x2="287.23" y2="514.9" stroke="#000" stroke-width="1.6" />
<text x="287.23" y="527.2" font-size="11.5" text-anchor="middle" >0.0</text>
<line x1="335.19" y1="510.4" x2="335.19" y2="514.9" stroke="#000" stroke-width="1.6" />
<text x="335.19" y="527.2" font-size="11.5" text-anchor="middle" >0.5</text>
<line x1="71.38" y1="510.4" x2="71.38" y2="512.7" stroke="#000" stroke-width="1.4" />
<line x1="119.35" y1="510.4" x2="119.35" y2="512.7" stroke="#000" stroke-width="1.4" />
<line x1="167.31" y1="510.4" x2="167.31" y2="512.7" stroke="#000" stroke-width="1.4" />
<line x1="215.28" y1="510.4" x2="215.28" y2="512.7" stroke="#000" stroke-width="1.4" />
<line x1="263.24" y1="510.4" x2="263.24" y2="512.7" stroke="#000" stroke-width="1.4" />
<line x1="311.21" y1="510.4" x2="311.21" y2="512.7" stroke="#000" stroke-width="1.4" />
<text x="191.45" y="547.6" font-size="11.75" text-anchor="middle" >Shift in potential (V) vs. Ag/AgCl</text>
<text x="0" y="0" font-size="11.9" text-anchor="middle" transform="translate(9.4,389.1) rotate(-90)">Current density (mA)</text>
<line x1="56.3" y1="502.8" x2="131" y2="429.8" stroke="#ff0000" stroke-width="1.5" />
<line x1="295.7" y1="384" x2="322.5" y2="292" stroke="#000" stroke-width="1.5" />
<circle cx="56.8" cy="498.7" r="3.75" fill="url(#gr)"/>
<circle cx="66.2" cy="490.9" r="3.75" fill="url(#gr)"/>
<circle cx="85.4" cy="482.3" r="3.75" fill="url(#gr)"/>
<circle cx="95.2" cy="467.6" r="3.75" fill="url(#gr)"/>
<circle cx="104.8" cy="456.8" r="3.75" fill="url(#gr)"/>
<circle cx="113.6" cy="448" r="3.75" fill="url(#gr)"/>
<circle cx="117" cy="437.4" r="3.75" fill="url(#gr)"/>
<circle cx="126.9" cy="431.6" r="3.75" fill="url(#gr)"/>
<circle cx="128.9" cy="428.6" r="3.75" fill="url(#gr)"/>
<polygon points="321.9,288.1 318.35,290.15 318.35,294.25 321.9,296.3 325.45,294.25 325.45,290.15" fill="#000"/>
<polygon points="320,303.8 316.45,305.85 316.45,309.95 320,312 323.55,309.95 323.55,305.85" fill="#000"/>
<polygon points="318,315.6 314.45,317.65 314.45,321.75 318,323.8 321.55,321.75 321.55,317.65" fill="#000"/>
<polygon points="313.3,322.8 309.75,324.85 309.75,328.95 313.3,331 316.85,328.95 316.85,324.85" fill="#000"/>
<polygon points="305.9,344.2 302.35,346.25 302.35,350.35 305.9,352.4 309.45,350.35 309.45,346.25" fill="#000"/>
<polygon points="303.8,355.8 300.25,357.85 300.25,361.95 303.8,364 307.35,361.95 307.35,357.85" fill="#000"/>
<polygon points="300.7,368.3 297.15,370.35 297.15,374.45 300.7,376.5 304.25,374.45 304.25,370.35" fill="#000"/>
<polygon points="296.8,380.9 293.25,382.95 293.25,387.05 296.8,389.1 300.35,387.05 300.35,382.95" fill="#000"/>
<text x="294.6" y="295.9" font-size="16.5" text-anchor="start" >(c)</text>
<text x="260.4" y="311" font-size="11.3" text-anchor="start" >r<tspan font-size="9.3" dy="-4.4">2</tspan><tspan dy="4.4"> = 0.99</tspan></text>
<text x="220.7" y="337.6" font-size="11.7" text-anchor="start" >Slope = 4.202</text>
<text x="125.2" y="462.7" font-size="11.2" text-anchor="start" >r<tspan font-size="9.3" dy="-4.4">2</tspan><tspan dy="4.4"> = 0.98</tspan></text>
<text x="112" y="476.5" font-size="11.5" text-anchor="start" >Slope = 1.238</text>
<rect x="342.2" y="514" width="12" height="20" fill="#fff"/>
<line x1="391.8" y1="277.4" x2="683.9" y2="277.4" stroke="#000" stroke-width="1.6" />
<line x1="683.1" y1="276.6" x2="683.1" y2="511" stroke="#000" stroke-width="1.6" />
<line x1="391.8" y1="276.6" x2="391.8" y2="511.95" stroke="#000" stroke-width="1.9" />
<line x1="390.85" y1="511" x2="683.9" y2="511" stroke="#000" stroke-width="1.9" />
<line x1="387.3" y1="293.62" x2="391.8" y2="293.62" stroke="#000" stroke-width="1.6" />
<text x="384.3" y="297.02" font-size="12.3" text-anchor="end" >0.03</text>
<line x1="387.3" y1="327.08" x2="391.8" y2="327.08" stroke="#000" stroke-width="1.6" />
<text x="384.3" y="330.48" font-size="12.3" text-anchor="end" >0.02</text>
<line x1="387.3" y1="360.54" x2="391.8" y2="360.54" stroke="#000" stroke-width="1.6" />
<text x="384.3" y="363.94" font-size="12.3" text-anchor="end" >0.01</text>
<line x1="387.3" y1="394" x2="391.8" y2="394" stroke="#000" stroke-width="1.6" />
<text x="384.3" y="397.4" font-size="12.3" text-anchor="end" >0.00</text>
<line x1="387.3" y1="427.46" x2="391.8" y2="427.46" stroke="#000" stroke-width="1.6" />
<text x="384.3" y="430.86" font-size="12.3" text-anchor="end" >-0.01</text>
<line x1="387.3" y1="460.92" x2="391.8" y2="460.92" stroke="#000" stroke-width="1.6" />
<text x="384.3" y="464.32" font-size="12.3" text-anchor="end" >-0.02</text>
<line x1="387.3" y1="494.38" x2="391.8" y2="494.38" stroke="#000" stroke-width="1.6" />
<text x="384.3" y="497.78" font-size="12.3" text-anchor="end" >-0.03</text>
<line x1="389.5" y1="310.35" x2="391.8" y2="310.35" stroke="#000" stroke-width="1.4" />
<line x1="389.5" y1="343.81" x2="391.8" y2="343.81" stroke="#000" stroke-width="1.4" />
<line x1="389.5" y1="377.27" x2="391.8" y2="377.27" stroke="#000" stroke-width="1.4" />
<line x1="389.5" y1="410.73" x2="391.8" y2="410.73" stroke="#000" stroke-width="1.4" />
<line x1="389.5" y1="444.19" x2="391.8" y2="444.19" stroke="#000" stroke-width="1.4" />
<line x1="389.5" y1="477.65" x2="391.8" y2="477.65" stroke="#000" stroke-width="1.4" />
<line x1="392" y1="511" x2="392" y2="515.5" stroke="#000" stroke-width="1.6" />
<text x="392" y="529" font-size="12.3" text-anchor="middle" >1.0</text>
<line x1="444.92" y1="511" x2="444.92" y2="515.5" stroke="#000" stroke-width="1.6" />
<text x="444.92" y="529" font-size="12.3" text-anchor="middle" >1.2</text>
<line x1="497.84" y1="511" x2="497.84" y2="515.5" stroke="#000" stroke-width="1.6" />
<text x="497.84" y="529" font-size="12.3" text-anchor="middle" >1.4</text>
<line x1="550.76" y1="511" x2="550.76" y2="515.5" stroke="#000" stroke-width="1.6" />
<text x="550.76" y="529" font-size="12.3" text-anchor="middle" >1.6</text>
<line x1="603.68" y1="511" x2="603.68" y2="515.5" stroke="#000" stroke-width="1.6" />
<text x="603.68" y="529" font-size="12.3" text-anchor="middle" >1.8</text>
<line x1="656.6" y1="511" x2="656.6" y2="515.5" stroke="#000" stroke-width="1.6" />
<text x="656.6" y="529" font-size="12.3" text-anchor="middle" >2.0</text>
<line x1="418.46" y1="511" x2="418.46" y2="513.3" stroke="#000" stroke-width="1.4" />
<line x1="471.38" y1="511" x2="471.38" y2="513.3" stroke="#000" stroke-width="1.4" />
<line x1="524.3" y1="511" x2="524.3" y2="513.3" stroke="#000" stroke-width="1.4" />
<line x1="577.22" y1="511" x2="577.22" y2="513.3" stroke="#000" stroke-width="1.4" />
<line x1="630.14" y1="511" x2="630.14" y2="513.3" stroke="#000" stroke-width="1.4" />
<line x1="683.06" y1="511" x2="683.06" y2="513.3" stroke="#000" stroke-width="1.4" />
<text x="537.6" y="548.8" font-size="12.2" text-anchor="middle" >Log v</text>
<text x="0" y="0" font-size="12.3" text-anchor="middle" transform="translate(350.0,393.15) rotate(-90)">Potential (V) vs. Ag/AgCl</text>
<line x1="437.3" y1="480.4" x2="437.3" y2="488.4" stroke="#888" stroke-width="0.9" />
<line x1="434.9" y1="480.4" x2="439.7" y2="480.4" stroke="#888" stroke-width="0.9" />
<line x1="434.9" y1="488.4" x2="439.7" y2="488.4" stroke="#888" stroke-width="0.9" />
<line x1="656.4" y1="290" x2="656.4" y2="299" stroke="#888" stroke-width="0.9" />
<line x1="654" y1="290" x2="658.8" y2="290" stroke="#888" stroke-width="0.9" />
<line x1="654" y1="299" x2="658.8" y2="299" stroke="#888" stroke-width="0.9" />
<rect x="434.7" y="481.6" width="5.2" height="5.2" fill="#000"/>
<rect x="468.9" y="441.6" width="5.2" height="5.2" fill="#000"/>
<rect x="492.7" y="424.9" width="5.2" height="5.2" fill="#000"/>
<rect x="516.6" y="390.4" width="5.2" height="5.2" fill="#000"/>
<rect x="548.5" y="378.2" width="5.2" height="5.2" fill="#000"/>
<rect x="572.3" y="358.5" width="5.2" height="5.2" fill="#000"/>
<rect x="604.1" y="331.6" width="5.2" height="5.2" fill="#000"/>
<rect x="622.5" y="314.9" width="5.2" height="5.2" fill="#000"/>
<rect x="635.8" y="305.2" width="5.2" height="5.2" fill="#000"/>
<rect x="653.8" y="292" width="5.2" height="5.2" fill="#000"/>
<line x1="437.2" y1="473.4" x2="657.5" y2="288.3" stroke="#ff0000" stroke-width="2" />
<text x="659.4" y="295.3" font-size="16.5" text-anchor="start" >(d)</text>
<text x="534.5" y="303.9" font-size="12.2" text-anchor="start" >Slope = 0.067</text>
<text x="543.5" y="328.5" font-size="12" text-anchor="start" >r<tspan font-size="9.8" dy="-4.6">2</tspan><tspan dy="4.6"> = 0.98</tspan></text></svg>
</body></html>
